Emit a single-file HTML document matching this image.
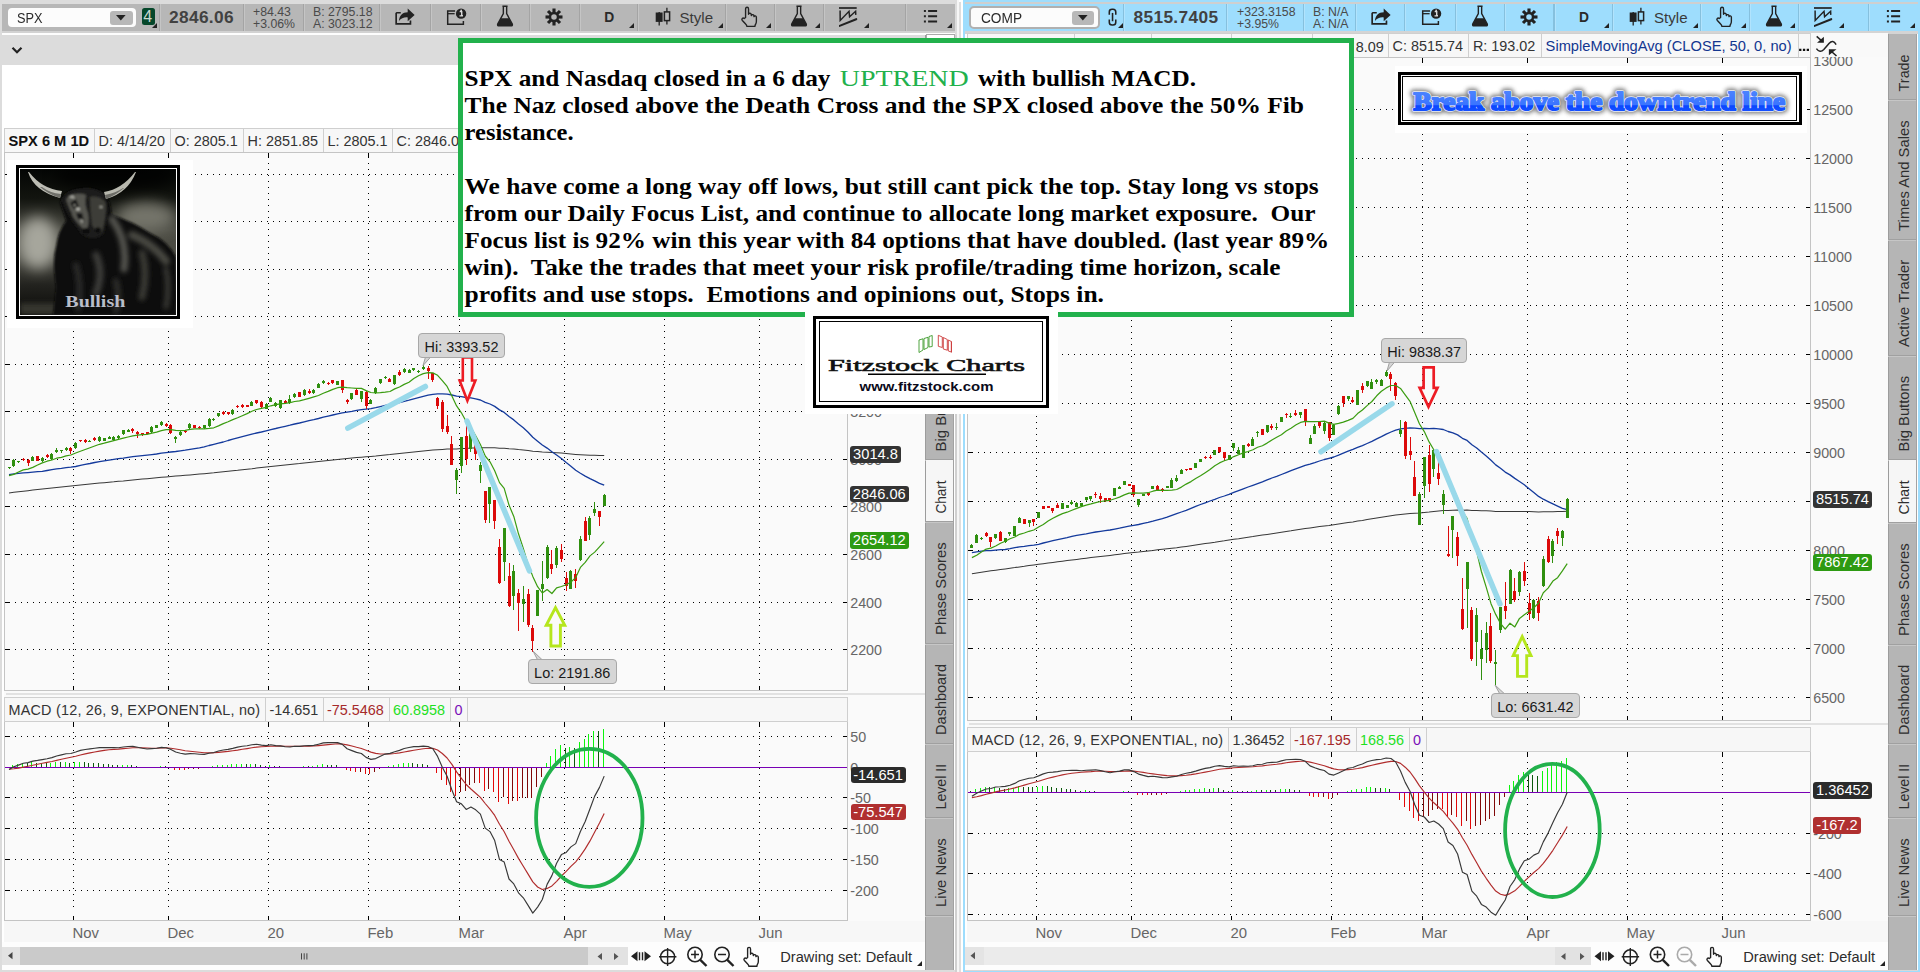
<!DOCTYPE html>
<html><head><meta charset="utf-8"><title>chart</title>
<style>
html,body{margin:0;padding:0;}
body{width:1920px;height:972px;position:relative;overflow:hidden;background:#dcdcdc;font-family:"Liberation Sans",sans-serif;}
body>div,body>svg{position:absolute;}
.t{white-space:pre;line-height:1.15;}
.g{stroke:#000;stroke-width:1;stroke-dasharray:1 5;shape-rendering:crispEdges;}
.ax{font-size:14.3px;fill:#666;font-family:"Liberation Sans",sans-serif;}
</style></head><body>
<div style="left:0px;top:0px;width:1920px;height:972px;background:#dcdcdc;"></div>
<div style="left:2px;top:4px;width:953px;height:27px;background:#b7b7b7;"></div>
<div style="left:2px;top:31px;width:953px;height:1.5px;background:#d2d2d2;"></div>
<div style="left:2px;top:32.5px;width:953px;height:2.5px;background:#fdfdfd;"></div>
<div style="left:2px;top:65px;width:956px;height:905px;background:#fff;"></div>
<svg style="left:11px;top:46px" width="12" height="9"><path d="M1.5 1.8 L6 6.3 L10.5 1.8" fill="none" stroke="#222" stroke-width="2.2"/></svg>
<div style="left:955px;top:0px;width:8px;height:972px;background:#fff;"></div>
<div style="left:955px;top:0px;width:2px;height:35px;background:#dcdcdc;"></div>
<div style="left:955px;top:35px;width:2px;height:937px;background:#d0d0d0;"></div>
<div style="left:957px;top:0px;width:2px;height:972px;background:#f6f6f6;"></div>
<div style="left:959px;top:2px;width:2px;height:970px;background:#dedede;"></div>
<div style="left:961px;top:0px;width:2px;height:972px;background:#fff;"></div>
<div style="left:963px;top:0px;width:957px;height:972px;background:#9eddfd;"></div>
<div style="left:965px;top:2px;width:953px;height:1.6px;background:#cfcfcf;"></div>
<div style="left:965px;top:2px;width:953px;height:1.6px;background:#cfcfcf;"></div>
<div style="left:965px;top:31px;width:953px;height:2.5px;background:#d4d4d4;"></div>
<div style="left:965px;top:33.5px;width:953px;height:936.5px;background:#fff;"></div>
<div style="left:965px;top:969.8px;width:953px;height:0.5px;background:#d8d8d8;"></div>
<div style="left:159px;top:4px;width:1.2px;height:27px;background:#a4a4a4;"></div>
<div style="left:160.2px;top:4px;width:1px;height:27px;background:rgba(255,255,255,0.2);"></div>
<div style="left:243px;top:4px;width:1.2px;height:27px;background:#a4a4a4;"></div>
<div style="left:244.2px;top:4px;width:1px;height:27px;background:rgba(255,255,255,0.2);"></div>
<div style="left:302.5px;top:4px;width:1.2px;height:27px;background:#a4a4a4;"></div>
<div style="left:303.7px;top:4px;width:1px;height:27px;background:rgba(255,255,255,0.2);"></div>
<div style="left:379px;top:4px;width:1.2px;height:27px;background:#a4a4a4;"></div>
<div style="left:380.2px;top:4px;width:1px;height:27px;background:rgba(255,255,255,0.2);"></div>
<div style="left:429.5px;top:4px;width:1.2px;height:27px;background:#a4a4a4;"></div>
<div style="left:430.7px;top:4px;width:1px;height:27px;background:rgba(255,255,255,0.2);"></div>
<div style="left:479.5px;top:4px;width:1.2px;height:27px;background:#a4a4a4;"></div>
<div style="left:480.7px;top:4px;width:1px;height:27px;background:rgba(255,255,255,0.2);"></div>
<div style="left:528.5px;top:4px;width:1.2px;height:27px;background:#a4a4a4;"></div>
<div style="left:529.7px;top:4px;width:1px;height:27px;background:rgba(255,255,255,0.2);"></div>
<div style="left:578.6px;top:4px;width:1.2px;height:27px;background:#a4a4a4;"></div>
<div style="left:579.8px;top:4px;width:1px;height:27px;background:rgba(255,255,255,0.2);"></div>
<div style="left:637px;top:4px;width:1.2px;height:27px;background:#a4a4a4;"></div>
<div style="left:638.2px;top:4px;width:1px;height:27px;background:rgba(255,255,255,0.2);"></div>
<div style="left:725px;top:4px;width:1.2px;height:27px;background:#a4a4a4;"></div>
<div style="left:726.2px;top:4px;width:1px;height:27px;background:rgba(255,255,255,0.2);"></div>
<div style="left:774px;top:4px;width:1.2px;height:27px;background:#a4a4a4;"></div>
<div style="left:775.2px;top:4px;width:1px;height:27px;background:rgba(255,255,255,0.2);"></div>
<div style="left:823px;top:4px;width:1.2px;height:27px;background:#a4a4a4;"></div>
<div style="left:824.2px;top:4px;width:1px;height:27px;background:rgba(255,255,255,0.2);"></div>
<div style="left:904.5px;top:4px;width:1.2px;height:27px;background:#a4a4a4;"></div>
<div style="left:905.7px;top:4px;width:1px;height:27px;background:rgba(255,255,255,0.2);"></div>
<div style="left:7.6px;top:7.5px;width:128.8px;height:19.5px;background:#fcfcfc;border-radius:4px"></div>
<div style="left:110px;top:10.5px;width:22.5px;height:14px;background:#b8b8b8;border-radius:3px"></div>
<svg style="left:116.3px;top:14.5px" width="10" height="6"><path d="M0 0 H9.6 L4.8 5.6z" fill="#222"/></svg>
<div class="t " style="left:17.3px;top:8.6px;font-size:15.2px;color:#2b2b2b;transform:scaleX(0.84);transform-origin:0 0">SPX</div>
<div style="left:141.5px;top:8px;width:13px;height:17px;background:#05472a;border-radius:2.5px"></div>
<div class="t " style="left:143.2px;top:8.3px;font-size:16px;color:#c8d8d0;font-weight:400">4</div>
<svg style="left:152px;top:23px" width="5" height="5" viewBox="0 0 5 5"><path d="M5 0 V5 H0z" fill="#222"/></svg>
<div class="t " style="left:169px;top:8.2px;font-size:17.3px;color:#414141;font-weight:bold;letter-spacing:0.35px">2846.06</div>
<div class="t " style="left:253px;top:5.2px;font-size:12.3px;color:#4a4a4a;">+84.43</div>
<div class="t " style="left:253px;top:17px;font-size:12.3px;color:#4a4a4a;">+3.06%</div>
<div class="t " style="left:313px;top:5.2px;font-size:12.3px;color:#4a4a4a;">B: 2795.18</div>
<div class="t " style="left:313px;top:17px;font-size:12.3px;color:#4a4a4a;">A: 3023.12</div>
<svg style="left:391.7px;top:3.6px" width="24" height="24" viewBox="0 0 24 26"><path d="M3.5 9.5 h5 M3.5 9.5 v12 h15.5 v-3.5" fill="none" stroke="#222" stroke-width="1.8"/><path d="M6.5 18.5 c0.5-6 4-9.5 9.5-9.5 v-4.2 l7.5 7 -7.5 7 v-4.3 c-4-0.3-7 0.8-9.5 4z" fill="#222"/></svg>
<svg style="left:443.5px;top:4px" width="24" height="24" viewBox="0 0 24 26"><path d="M11 7.5 H3 V22 H20 V18.5" fill="none" stroke="#222" stroke-width="1.6"/><path d="M3 10.5 H10.5" stroke="#222" stroke-width="1.4"/><circle cx="17.5" cy="10.5" r="5.6" fill="#222"/><path d="M16 8.2 h2.2 v4.6 h1.2 M15.8 12.9 h3.8" stroke="#ddd" stroke-width="1.5" fill="none"/><circle cx="17.6" cy="6.9" r="0.95" fill="#ddd"/></svg>
<svg style="left:493px;top:3.5px" width="24" height="24" viewBox="0 0 24 26"><path d="M9.2 2.5 h5.6 M10.2 3 v7.5 L4.2 21.5 q-0.8 2 1.3 2.2 h13 q2.1-0.2 1.3-2.2 L13.8 10.5 V3" fill="none" stroke="#222" stroke-width="1.5" stroke-linejoin="round"/><path d="M7.6 15.5 h8.8 l3.4 6.3 q0.6 1.7-1 1.9 h-13.6 q-1.6-0.2-1-1.9z" fill="#222"/></svg>
<svg style="left:542px;top:4.5px" width="24" height="24" viewBox="0 0 24 26"><g transform="translate(12 13)"><g fill="#222"><rect x="-1.7" y="-9.2" width="3.4" height="5" transform="rotate(0)"/><rect x="-1.7" y="-9.2" width="3.4" height="5" transform="rotate(45)"/><rect x="-1.7" y="-9.2" width="3.4" height="5" transform="rotate(90)"/><rect x="-1.7" y="-9.2" width="3.4" height="5" transform="rotate(135)"/><rect x="-1.7" y="-9.2" width="3.4" height="5" transform="rotate(180)"/><rect x="-1.7" y="-9.2" width="3.4" height="5" transform="rotate(225)"/><rect x="-1.7" y="-9.2" width="3.4" height="5" transform="rotate(270)"/><rect x="-1.7" y="-9.2" width="3.4" height="5" transform="rotate(315)"/></g><circle r="5.6" fill="#222"/><circle r="3" fill="#b7b7b7"/></g></svg>
<div class="t " style="left:604.3px;top:9.6px;font-size:13.8px;color:#2a2a2a;font-weight:bold">D</div>
<svg style="left:629px;top:23px" width="5" height="5" viewBox="0 0 5 5"><path d="M5 0 V5 H0z" fill="#222"/></svg>
<svg style="left:654.6px;top:0px" width="20" height="30"><path d="M4.2 11.9 V25.6 M11.9 7.75 V24.4" stroke="#222" stroke-width="1.3"/><rect x="0.7" y="12.5" width="6.9" height="9.4" fill="#222"/><rect x="9.4" y="11.9" width="5.2" height="8.7" fill="#b7b7b7" stroke="#222" stroke-width="1.5"/></svg>
<div class="t " style="left:679.5px;top:9.4px;font-size:15.1px;color:#3a3a3a;">Style</div>
<svg style="left:717.5px;top:23px" width="5" height="5" viewBox="0 0 5 5"><path d="M5 0 V5 H0z" fill="#222"/></svg>
<svg style="left:737px;top:4.5px" width="24" height="24" viewBox="0 0 24 26"><path d="M8.3 13.5 V4.2 q0-1.7 1.6-1.7 q1.6 0 1.6 1.7 V10 q0.2-1.3 1.6-1.1 q1.3 0.2 1.4 1.5 V11.4 q0.3-1.2 1.6-1 q1.2 0.2 1.3 1.4 V12.6 q0.4-1 1.5-0.8 q1.1 0.3 1.1 1.5 V17.5 q0 2.2-1 3.6 q-0.5 0.7-0.5 2 H9.6 q0-1.2-1-2.2 L4.8 16.8 q-1-1.2-0.1-2.2 q1-0.9 2.1 0.1 z" fill="none" stroke="#222" stroke-width="1.5" stroke-linejoin="round"/></svg>
<svg style="left:766px;top:23px" width="5" height="5" viewBox="0 0 5 5"><path d="M5 0 V5 H0z" fill="#222"/></svg>
<svg style="left:787px;top:3.5px" width="24" height="24" viewBox="0 0 24 26"><path d="M9.2 2.5 h5.6 M10.2 3 v7.5 L4.2 21.5 q-0.8 2 1.3 2.2 h13 q2.1-0.2 1.3-2.2 L13.8 10.5 V3" fill="none" stroke="#222" stroke-width="1.5" stroke-linejoin="round"/><path d="M7.6 15.5 h8.8 l3.4 6.3 q0.6 1.7-1 1.9 h-13.6 q-1.6-0.2-1-1.9z" fill="#222"/></svg>
<svg style="left:815px;top:23px" width="5" height="5" viewBox="0 0 5 5"><path d="M5 0 V5 H0z" fill="#222"/></svg>
<svg style="left:839px;top:0px" width="22" height="30"><path d="M0 8 H17.7" stroke="#222" stroke-width="1.7"/><path d="M1.1 10.6 L1.2 20.4 L10 11.3 L10.6 16.8 L16.6 11.3 L16.8 14.9" fill="none" stroke="#222" stroke-width="1.5" stroke-linejoin="miter"/><path d="M0.6 25.9 L17.2 19.2" stroke="#222" stroke-width="2.1" stroke-linecap="round"/></svg>
<svg style="left:864px;top:23px" width="5" height="5" viewBox="0 0 5 5"><path d="M5 0 V5 H0z" fill="#222"/></svg>
<svg style="left:920px;top:6px" width="22" height="20"><path d="M3.9 4.95 h2 M3.9 10.2 h2 M3.9 15.5 h2" stroke="#222" stroke-width="2"/><path d="M8.1 4.95 h9 M8.1 10.2 h9 M8.1 15.5 h9" stroke="#222" stroke-width="1.9"/></svg>
<svg style="left:946.8px;top:23px" width="5" height="5" viewBox="0 0 5 5"><path d="M5 0 V5 H0z" fill="#222"/></svg>
<div style="left:1123px;top:4px;width:1.2px;height:27px;background:#86c0de;"></div>
<div style="left:1124.2px;top:4px;width:1px;height:27px;background:rgba(255,255,255,0.2);"></div>
<div style="left:1226px;top:4px;width:1.2px;height:27px;background:#86c0de;"></div>
<div style="left:1227.2px;top:4px;width:1px;height:27px;background:rgba(255,255,255,0.2);"></div>
<div style="left:1302.8px;top:4px;width:1.2px;height:27px;background:#86c0de;"></div>
<div style="left:1304px;top:4px;width:1px;height:27px;background:rgba(255,255,255,0.2);"></div>
<div style="left:1354.6px;top:4px;width:1.2px;height:27px;background:#86c0de;"></div>
<div style="left:1355.8px;top:4px;width:1px;height:27px;background:rgba(255,255,255,0.2);"></div>
<div style="left:1404px;top:4px;width:1.2px;height:27px;background:#86c0de;"></div>
<div style="left:1405.2px;top:4px;width:1px;height:27px;background:rgba(255,255,255,0.2);"></div>
<div style="left:1455px;top:4px;width:1.2px;height:27px;background:#86c0de;"></div>
<div style="left:1456.2px;top:4px;width:1px;height:27px;background:rgba(255,255,255,0.2);"></div>
<div style="left:1504px;top:4px;width:1.2px;height:27px;background:#86c0de;"></div>
<div style="left:1505.2px;top:4px;width:1px;height:27px;background:rgba(255,255,255,0.2);"></div>
<div style="left:1553.4px;top:4px;width:1.2px;height:27px;background:#86c0de;"></div>
<div style="left:1554.6px;top:4px;width:1px;height:27px;background:rgba(255,255,255,0.2);"></div>
<div style="left:1611.7px;top:4px;width:1.2px;height:27px;background:#86c0de;"></div>
<div style="left:1612.9px;top:4px;width:1px;height:27px;background:rgba(255,255,255,0.2);"></div>
<div style="left:1699.8px;top:4px;width:1.2px;height:27px;background:#86c0de;"></div>
<div style="left:1701px;top:4px;width:1px;height:27px;background:rgba(255,255,255,0.2);"></div>
<div style="left:1748.6px;top:4px;width:1.2px;height:27px;background:#86c0de;"></div>
<div style="left:1749.8px;top:4px;width:1px;height:27px;background:rgba(255,255,255,0.2);"></div>
<div style="left:1797.8px;top:4px;width:1.2px;height:27px;background:#86c0de;"></div>
<div style="left:1799px;top:4px;width:1px;height:27px;background:rgba(255,255,255,0.2);"></div>
<div style="left:1868px;top:4px;width:1.2px;height:27px;background:#86c0de;"></div>
<div style="left:1869.2px;top:4px;width:1px;height:27px;background:rgba(255,255,255,0.2);"></div>
<div style="left:969px;top:6px;width:131px;height:23px;background:#fcfcfc;border:2px solid #b0b0b0;border-radius:5px;box-sizing:border-box"></div>
<div style="left:1071.5px;top:10.5px;width:22.5px;height:14px;background:#b8b8b8;border-radius:3px"></div>
<svg style="left:1077.8px;top:14.5px" width="10" height="6"><path d="M0 0 H9.6 L4.8 5.6z" fill="#222"/></svg>
<div class="t " style="left:980.5px;top:8.6px;font-size:15.2px;color:#2b2b2b;transform:scaleX(0.9);transform-origin:0 0">COMP</div>
<svg style="left:1101px;top:5.5px" width="24" height="24" viewBox="0 0 24 26"><path d="M8 9.5 V6.5 q0-3 3-3 h1 q3 0 3 3 v3 M8 14.5 v3 q0 3 3 3 h1 q3 0 3-3 v-3" fill="none" stroke="#222" stroke-width="1.7"/><path d="M11.5 7.5 v9" stroke="#222" stroke-width="1.7"/></svg>
<svg style="left:1117.5px;top:23px" width="5" height="5" viewBox="0 0 5 5"><path d="M5 0 V5 H0z" fill="#222"/></svg>
<div class="t " style="left:1133.5px;top:8.2px;font-size:17.3px;color:#414141;font-weight:bold;letter-spacing:0.35px">8515.7405</div>
<div class="t " style="left:1237px;top:5.2px;font-size:12.3px;color:#4a4a4a;">+323.3158</div>
<div class="t " style="left:1237px;top:17px;font-size:12.3px;color:#4a4a4a;">+3.95%</div>
<div class="t " style="left:1313px;top:5.2px;font-size:12.3px;color:#4a4a4a;">B: N/A</div>
<div class="t " style="left:1313px;top:17px;font-size:12.3px;color:#4a4a4a;">A: N/A</div>
<svg style="left:1367.5px;top:3.6px" width="24" height="24" viewBox="0 0 24 26"><path d="M3.5 9.5 h5 M3.5 9.5 v12 h15.5 v-3.5" fill="none" stroke="#222" stroke-width="1.8"/><path d="M6.5 18.5 c0.5-6 4-9.5 9.5-9.5 v-4.2 l7.5 7 -7.5 7 v-4.3 c-4-0.3-7 0.8-9.5 4z" fill="#222"/></svg>
<svg style="left:1418.5px;top:4px" width="24" height="24" viewBox="0 0 24 26"><path d="M11 7.5 H3 V22 H20 V18.5" fill="none" stroke="#222" stroke-width="1.6"/><path d="M3 10.5 H10.5" stroke="#222" stroke-width="1.4"/><circle cx="17.5" cy="10.5" r="5.6" fill="#222"/><path d="M16 8.2 h2.2 v4.6 h1.2 M15.8 12.9 h3.8" stroke="#ddd" stroke-width="1.5" fill="none"/><circle cx="17.6" cy="6.9" r="0.95" fill="#ddd"/></svg>
<svg style="left:1468px;top:3.5px" width="24" height="24" viewBox="0 0 24 26"><path d="M9.2 2.5 h5.6 M10.2 3 v7.5 L4.2 21.5 q-0.8 2 1.3 2.2 h13 q2.1-0.2 1.3-2.2 L13.8 10.5 V3" fill="none" stroke="#222" stroke-width="1.5" stroke-linejoin="round"/><path d="M7.6 15.5 h8.8 l3.4 6.3 q0.6 1.7-1 1.9 h-13.6 q-1.6-0.2-1-1.9z" fill="#222"/></svg>
<svg style="left:1517px;top:4.5px" width="24" height="24" viewBox="0 0 24 26"><g transform="translate(12 13)"><g fill="#222"><rect x="-1.7" y="-9.2" width="3.4" height="5" transform="rotate(0)"/><rect x="-1.7" y="-9.2" width="3.4" height="5" transform="rotate(45)"/><rect x="-1.7" y="-9.2" width="3.4" height="5" transform="rotate(90)"/><rect x="-1.7" y="-9.2" width="3.4" height="5" transform="rotate(135)"/><rect x="-1.7" y="-9.2" width="3.4" height="5" transform="rotate(180)"/><rect x="-1.7" y="-9.2" width="3.4" height="5" transform="rotate(225)"/><rect x="-1.7" y="-9.2" width="3.4" height="5" transform="rotate(270)"/><rect x="-1.7" y="-9.2" width="3.4" height="5" transform="rotate(315)"/></g><circle r="5.6" fill="#222"/><circle r="3" fill="#9eddfd"/></g></svg>
<div class="t " style="left:1579px;top:9.6px;font-size:13.8px;color:#2a2a2a;font-weight:bold">D</div>
<svg style="left:1604px;top:23px" width="5" height="5" viewBox="0 0 5 5"><path d="M5 0 V5 H0z" fill="#222"/></svg>
<svg style="left:1629.3px;top:0px" width="20" height="30"><path d="M4.2 11.9 V25.6 M11.9 7.75 V24.4" stroke="#222" stroke-width="1.3"/><rect x="0.7" y="12.5" width="6.9" height="9.4" fill="#222"/><rect x="9.4" y="11.9" width="5.2" height="8.7" fill="#9eddfd" stroke="#222" stroke-width="1.5"/></svg>
<div class="t " style="left:1654px;top:9.4px;font-size:15.1px;color:#3a3a3a;">Style</div>
<svg style="left:1692.5px;top:23px" width="5" height="5" viewBox="0 0 5 5"><path d="M5 0 V5 H0z" fill="#222"/></svg>
<svg style="left:1712px;top:4.5px" width="24" height="24" viewBox="0 0 24 26"><path d="M8.3 13.5 V4.2 q0-1.7 1.6-1.7 q1.6 0 1.6 1.7 V10 q0.2-1.3 1.6-1.1 q1.3 0.2 1.4 1.5 V11.4 q0.3-1.2 1.6-1 q1.2 0.2 1.3 1.4 V12.6 q0.4-1 1.5-0.8 q1.1 0.3 1.1 1.5 V17.5 q0 2.2-1 3.6 q-0.5 0.7-0.5 2 H9.6 q0-1.2-1-2.2 L4.8 16.8 q-1-1.2-0.1-2.2 q1-0.9 2.1 0.1 z" fill="none" stroke="#222" stroke-width="1.5" stroke-linejoin="round"/></svg>
<svg style="left:1741px;top:23px" width="5" height="5" viewBox="0 0 5 5"><path d="M5 0 V5 H0z" fill="#222"/></svg>
<svg style="left:1762px;top:3.5px" width="24" height="24" viewBox="0 0 24 26"><path d="M9.2 2.5 h5.6 M10.2 3 v7.5 L4.2 21.5 q-0.8 2 1.3 2.2 h13 q2.1-0.2 1.3-2.2 L13.8 10.5 V3" fill="none" stroke="#222" stroke-width="1.5" stroke-linejoin="round"/><path d="M7.6 15.5 h8.8 l3.4 6.3 q0.6 1.7-1 1.9 h-13.6 q-1.6-0.2-1-1.9z" fill="#222"/></svg>
<svg style="left:1790px;top:23px" width="5" height="5" viewBox="0 0 5 5"><path d="M5 0 V5 H0z" fill="#222"/></svg>
<svg style="left:1814.2px;top:0px" width="22" height="30"><path d="M0 8 H17.7" stroke="#222" stroke-width="1.7"/><path d="M1.1 10.6 L1.2 20.4 L10 11.3 L10.6 16.8 L16.6 11.3 L16.8 14.9" fill="none" stroke="#222" stroke-width="1.5" stroke-linejoin="miter"/><path d="M0.6 25.9 L17.2 19.2" stroke="#222" stroke-width="2.1" stroke-linecap="round"/></svg>
<svg style="left:1839px;top:23px" width="5" height="5" viewBox="0 0 5 5"><path d="M5 0 V5 H0z" fill="#222"/></svg>
<svg style="left:1883px;top:6px" width="22" height="20"><path d="M3.9 4.95 h2 M3.9 10.2 h2 M3.9 15.5 h2" stroke="#222" stroke-width="2"/><path d="M8.1 4.95 h9 M8.1 10.2 h9 M8.1 15.5 h9" stroke="#222" stroke-width="1.9"/></svg>
<svg style="left:1910px;top:23px" width="5" height="5" viewBox="0 0 5 5"><path d="M5 0 V5 H0z" fill="#222"/></svg>
<div style="left:4px;top:128px;width:91px;height:25px;background:#f7f7f7;border:1px solid #cfcfcf;box-sizing:border-box"></div>
<div class="t " style="left:8.5px;top:132.82px;font-size:14.67px;color:#111;font-weight:bold;">SPX 6 M 1D</div>
<div style="left:94px;top:128px;width:77px;height:25px;background:#f7f7f7;border:1px solid #cfcfcf;box-sizing:border-box"></div>
<div class="t " style="left:98.5px;top:132.82px;font-size:14.4px;color:#333;">D: 4/14/20</div>
<div style="left:170px;top:128px;width:74px;height:25px;background:#f7f7f7;border:1px solid #cfcfcf;box-sizing:border-box"></div>
<div class="t " style="left:174.5px;top:132.82px;font-size:14.4px;color:#333;">O: 2805.1</div>
<div style="left:243px;top:128px;width:81px;height:25px;background:#f7f7f7;border:1px solid #cfcfcf;box-sizing:border-box"></div>
<div class="t " style="left:247.5px;top:132.82px;font-size:14.4px;color:#333;">H: 2851.85</div>
<div style="left:323px;top:128px;width:70px;height:25px;background:#f7f7f7;border:1px solid #cfcfcf;box-sizing:border-box"></div>
<div class="t " style="left:327.5px;top:132.82px;font-size:14.4px;color:#333;">L: 2805.1</div>
<div style="left:392px;top:128px;width:81px;height:25px;background:#f7f7f7;border:1px solid #cfcfcf;box-sizing:border-box"></div>
<div class="t " style="left:396.5px;top:132.82px;font-size:14.4px;color:#333;">C: 2846.06</div>
<div style="left:4px;top:152px;width:921px;height:769px;background:#fafafa;"></div>
<div style="left:4px;top:152px;width:844px;height:539px;background:#fafafa;border:1px solid #c4c4c4;box-sizing:border-box"></div>
<div style="left:6px;top:693px;width:919px;height:2px;background:#e2e2e2;"></div>
<div style="left:4px;top:721px;width:921px;height:200px;background:#fafafa;"></div>
<div style="left:4px;top:721px;width:844px;height:200px;background:#fafafa;border:1px solid #c4c4c4;box-sizing:border-box"></div>
<div style="left:4px;top:921px;width:921px;height:21.5px;background:#f7f7f7;"></div>
<svg style="left:0;top:0" width="1920" height="972"><defs><clipPath id="c4"><rect x="5" y="153" width="842" height="537"/></clipPath></defs><line x1="9" y1="649.5" x2="832" y2="649.5" class="g"/>
<line x1="843" y1="649.5" x2="847" y2="649.5" stroke="#000" shape-rendering="crispEdges"/>
<line x1="5" y1="649.5" x2="10" y2="649.5" stroke="#000" shape-rendering="crispEdges"/>
<line x1="9" y1="602.5" x2="832" y2="602.5" class="g"/>
<line x1="843" y1="602.5" x2="847" y2="602.5" stroke="#000" shape-rendering="crispEdges"/>
<line x1="5" y1="602.5" x2="10" y2="602.5" stroke="#000" shape-rendering="crispEdges"/>
<line x1="9" y1="554.5" x2="832" y2="554.5" class="g"/>
<line x1="843" y1="554.5" x2="847" y2="554.5" stroke="#000" shape-rendering="crispEdges"/>
<line x1="5" y1="554.5" x2="10" y2="554.5" stroke="#000" shape-rendering="crispEdges"/>
<line x1="9" y1="506.5" x2="832" y2="506.5" class="g"/>
<line x1="843" y1="506.5" x2="847" y2="506.5" stroke="#000" shape-rendering="crispEdges"/>
<line x1="5" y1="506.5" x2="10" y2="506.5" stroke="#000" shape-rendering="crispEdges"/>
<line x1="9" y1="459.5" x2="832" y2="459.5" class="g"/>
<line x1="843" y1="459.5" x2="847" y2="459.5" stroke="#000" shape-rendering="crispEdges"/>
<line x1="5" y1="459.5" x2="10" y2="459.5" stroke="#000" shape-rendering="crispEdges"/>
<line x1="9" y1="411.5" x2="832" y2="411.5" class="g"/>
<line x1="843" y1="411.5" x2="847" y2="411.5" stroke="#000" shape-rendering="crispEdges"/>
<line x1="5" y1="411.5" x2="10" y2="411.5" stroke="#000" shape-rendering="crispEdges"/>
<line x1="9" y1="364.5" x2="832" y2="364.5" class="g"/>
<line x1="843" y1="364.5" x2="847" y2="364.5" stroke="#000" shape-rendering="crispEdges"/>
<line x1="5" y1="364.5" x2="10" y2="364.5" stroke="#000" shape-rendering="crispEdges"/>
<line x1="9" y1="316.5" x2="832" y2="316.5" class="g"/>
<line x1="843" y1="316.5" x2="847" y2="316.5" stroke="#000" shape-rendering="crispEdges"/>
<line x1="5" y1="316.5" x2="10" y2="316.5" stroke="#000" shape-rendering="crispEdges"/>
<line x1="9" y1="269.5" x2="832" y2="269.5" class="g"/>
<line x1="843" y1="269.5" x2="847" y2="269.5" stroke="#000" shape-rendering="crispEdges"/>
<line x1="5" y1="269.5" x2="10" y2="269.5" stroke="#000" shape-rendering="crispEdges"/>
<line x1="9" y1="221.5" x2="832" y2="221.5" class="g"/>
<line x1="843" y1="221.5" x2="847" y2="221.5" stroke="#000" shape-rendering="crispEdges"/>
<line x1="5" y1="221.5" x2="10" y2="221.5" stroke="#000" shape-rendering="crispEdges"/>
<line x1="9" y1="174.5" x2="832" y2="174.5" class="g"/>
<line x1="843" y1="174.5" x2="847" y2="174.5" stroke="#000" shape-rendering="crispEdges"/>
<line x1="5" y1="174.5" x2="10" y2="174.5" stroke="#000" shape-rendering="crispEdges"/>
<line x1="9" y1="736.5" x2="832" y2="736.5" class="g"/>
<line x1="843" y1="736.5" x2="847" y2="736.5" stroke="#000" shape-rendering="crispEdges"/>
<line x1="5" y1="736.5" x2="10" y2="736.5" stroke="#000" shape-rendering="crispEdges"/>
<line x1="9" y1="767.5" x2="832" y2="767.5" class="g"/>
<line x1="843" y1="767.5" x2="847" y2="767.5" stroke="#000" shape-rendering="crispEdges"/>
<line x1="5" y1="767.5" x2="10" y2="767.5" stroke="#000" shape-rendering="crispEdges"/>
<line x1="9" y1="797.5" x2="832" y2="797.5" class="g"/>
<line x1="843" y1="797.5" x2="847" y2="797.5" stroke="#000" shape-rendering="crispEdges"/>
<line x1="5" y1="797.5" x2="10" y2="797.5" stroke="#000" shape-rendering="crispEdges"/>
<line x1="9" y1="828.5" x2="832" y2="828.5" class="g"/>
<line x1="843" y1="828.5" x2="847" y2="828.5" stroke="#000" shape-rendering="crispEdges"/>
<line x1="5" y1="828.5" x2="10" y2="828.5" stroke="#000" shape-rendering="crispEdges"/>
<line x1="9" y1="859.5" x2="832" y2="859.5" class="g"/>
<line x1="843" y1="859.5" x2="847" y2="859.5" stroke="#000" shape-rendering="crispEdges"/>
<line x1="5" y1="859.5" x2="10" y2="859.5" stroke="#000" shape-rendering="crispEdges"/>
<line x1="9" y1="890.5" x2="832" y2="890.5" class="g"/>
<line x1="843" y1="890.5" x2="847" y2="890.5" stroke="#000" shape-rendering="crispEdges"/>
<line x1="5" y1="890.5" x2="10" y2="890.5" stroke="#000" shape-rendering="crispEdges"/>
<line x1="73.5" y1="157" x2="73.5" y2="681" class="g"/>
<line x1="73.5" y1="726" x2="73.5" y2="911" class="g"/>
<line x1="73.5" y1="153" x2="73.5" y2="157" stroke="#000" shape-rendering="crispEdges"/>
<line x1="73.5" y1="686" x2="73.5" y2="690" stroke="#000" shape-rendering="crispEdges"/>
<line x1="73.5" y1="722" x2="73.5" y2="726" stroke="#000" shape-rendering="crispEdges"/>
<line x1="73.5" y1="916" x2="73.5" y2="920" stroke="#000" shape-rendering="crispEdges"/>
<line x1="168.5" y1="157" x2="168.5" y2="681" class="g"/>
<line x1="168.5" y1="726" x2="168.5" y2="911" class="g"/>
<line x1="168.5" y1="153" x2="168.5" y2="157" stroke="#000" shape-rendering="crispEdges"/>
<line x1="168.5" y1="686" x2="168.5" y2="690" stroke="#000" shape-rendering="crispEdges"/>
<line x1="168.5" y1="722" x2="168.5" y2="726" stroke="#000" shape-rendering="crispEdges"/>
<line x1="168.5" y1="916" x2="168.5" y2="920" stroke="#000" shape-rendering="crispEdges"/>
<line x1="268.5" y1="157" x2="268.5" y2="681" class="g"/>
<line x1="268.5" y1="726" x2="268.5" y2="911" class="g"/>
<line x1="268.5" y1="153" x2="268.5" y2="157" stroke="#000" shape-rendering="crispEdges"/>
<line x1="268.5" y1="686" x2="268.5" y2="690" stroke="#000" shape-rendering="crispEdges"/>
<line x1="268.5" y1="722" x2="268.5" y2="726" stroke="#000" shape-rendering="crispEdges"/>
<line x1="268.5" y1="916" x2="268.5" y2="920" stroke="#000" shape-rendering="crispEdges"/>
<line x1="368.5" y1="157" x2="368.5" y2="681" class="g"/>
<line x1="368.5" y1="726" x2="368.5" y2="911" class="g"/>
<line x1="368.5" y1="153" x2="368.5" y2="157" stroke="#000" shape-rendering="crispEdges"/>
<line x1="368.5" y1="686" x2="368.5" y2="690" stroke="#000" shape-rendering="crispEdges"/>
<line x1="368.5" y1="722" x2="368.5" y2="726" stroke="#000" shape-rendering="crispEdges"/>
<line x1="368.5" y1="916" x2="368.5" y2="920" stroke="#000" shape-rendering="crispEdges"/>
<line x1="459.5" y1="157" x2="459.5" y2="681" class="g"/>
<line x1="459.5" y1="726" x2="459.5" y2="911" class="g"/>
<line x1="459.5" y1="153" x2="459.5" y2="157" stroke="#000" shape-rendering="crispEdges"/>
<line x1="459.5" y1="686" x2="459.5" y2="690" stroke="#000" shape-rendering="crispEdges"/>
<line x1="459.5" y1="722" x2="459.5" y2="726" stroke="#000" shape-rendering="crispEdges"/>
<line x1="459.5" y1="916" x2="459.5" y2="920" stroke="#000" shape-rendering="crispEdges"/>
<line x1="564.5" y1="157" x2="564.5" y2="681" class="g"/>
<line x1="564.5" y1="726" x2="564.5" y2="911" class="g"/>
<line x1="564.5" y1="153" x2="564.5" y2="157" stroke="#000" shape-rendering="crispEdges"/>
<line x1="564.5" y1="686" x2="564.5" y2="690" stroke="#000" shape-rendering="crispEdges"/>
<line x1="564.5" y1="722" x2="564.5" y2="726" stroke="#000" shape-rendering="crispEdges"/>
<line x1="564.5" y1="916" x2="564.5" y2="920" stroke="#000" shape-rendering="crispEdges"/>
<line x1="664.5" y1="157" x2="664.5" y2="681" class="g"/>
<line x1="664.5" y1="726" x2="664.5" y2="911" class="g"/>
<line x1="664.5" y1="153" x2="664.5" y2="157" stroke="#000" shape-rendering="crispEdges"/>
<line x1="664.5" y1="686" x2="664.5" y2="690" stroke="#000" shape-rendering="crispEdges"/>
<line x1="664.5" y1="722" x2="664.5" y2="726" stroke="#000" shape-rendering="crispEdges"/>
<line x1="664.5" y1="916" x2="664.5" y2="920" stroke="#000" shape-rendering="crispEdges"/>
<line x1="759.5" y1="157" x2="759.5" y2="681" class="g"/>
<line x1="759.5" y1="726" x2="759.5" y2="911" class="g"/>
<line x1="759.5" y1="153" x2="759.5" y2="157" stroke="#000" shape-rendering="crispEdges"/>
<line x1="759.5" y1="686" x2="759.5" y2="690" stroke="#000" shape-rendering="crispEdges"/>
<line x1="759.5" y1="722" x2="759.5" y2="726" stroke="#000" shape-rendering="crispEdges"/>
<line x1="759.5" y1="916" x2="759.5" y2="920" stroke="#000" shape-rendering="crispEdges"/>
<text x="850.2" y="654.7" class="ax">2200</text>
<text x="850.2" y="607.7" class="ax">2400</text>
<text x="850.2" y="559.7" class="ax">2600</text>
<text x="850.2" y="511.7" class="ax">2800</text>
<text x="850.2" y="464.7" class="ax">3000</text>
<text x="850.2" y="416.7" class="ax">3200</text>
<text x="850.2" y="741.7" class="ax">50</text>
<text x="850.2" y="772.7" class="ax">0</text>
<text x="850.2" y="802.7" class="ax">-50</text>
<text x="850.2" y="833.7" class="ax">-100</text>
<text x="850.2" y="864.7" class="ax">-150</text>
<text x="850.2" y="895.7" class="ax">-200</text>
<text x="72.5" y="938" class="ax" style="font-size:14.9px">Nov</text>
<text x="167.5" y="938" class="ax" style="font-size:14.9px">Dec</text>
<text x="267.5" y="938" class="ax" style="font-size:14.9px">20</text>
<text x="367.5" y="938" class="ax" style="font-size:14.9px">Feb</text>
<text x="458.5" y="938" class="ax" style="font-size:14.9px">Mar</text>
<text x="563.5" y="938" class="ax" style="font-size:14.9px">Apr</text>
<text x="663.5" y="938" class="ax" style="font-size:14.9px">May</text>
<text x="758.5" y="938" class="ax" style="font-size:14.9px">Jun</text>
<g clip-path="url(#c4)"><path d="M9.0 492.9 L13.8 492.3 L18.5 491.7 L23.3 491.2 L28.0 490.7 L32.8 490.1 L37.6 489.6 L42.3 489.1 L47.1 488.6 L51.9 488.1 L56.6 487.6 L61.4 487.1 L66.1 486.6 L70.9 486.1 L75.7 485.6 L80.4 485.1 L85.2 484.6 L90.0 484.1 L94.7 483.6 L99.5 483.1 L104.2 482.7 L109.0 482.2 L113.8 481.8 L118.5 481.3 L123.3 480.9 L128.0 480.4 L132.8 480.0 L137.6 479.5 L142.3 479.1 L147.1 478.7 L151.9 478.2 L156.6 477.8 L161.4 477.3 L166.1 476.9 L170.9 476.5 L175.7 476.1 L180.4 475.7 L185.2 475.3 L190.0 474.9 L194.7 474.5 L199.5 474.1 L204.2 473.7 L209.0 473.2 L213.8 472.8 L218.5 472.3 L223.3 471.8 L228.1 471.3 L232.8 470.8 L237.6 470.3 L242.3 469.7 L247.1 469.2 L251.9 468.7 L256.6 468.1 L261.4 467.6 L266.1 467.1 L270.9 466.6 L275.7 466.1 L280.4 465.6 L285.2 465.1 L290.0 464.6 L294.7 464.1 L299.5 463.6 L304.2 463.0 L309.0 462.5 L313.8 462.0 L318.5 461.5 L323.3 460.9 L328.1 460.4 L332.8 459.9 L337.6 459.4 L342.3 458.9 L347.1 458.5 L351.9 458.0 L356.6 457.6 L361.4 457.2 L366.1 456.8 L370.9 456.4 L375.7 456.0 L380.4 455.5 L385.2 455.0 L390.0 454.6 L394.7 454.1 L399.5 453.6 L404.2 453.1 L409.0 452.6 L413.8 452.1 L418.5 451.6 L423.3 451.1 L428.1 450.5 L432.8 450.0 L437.6 449.7 L442.3 449.4 L447.1 449.1 L451.9 449.0 L456.6 448.9 L461.4 448.6 L466.2 448.4 L470.9 448.1 L475.7 447.9 L480.4 447.7 L485.2 447.8 L490.0 447.7 L494.7 447.8 L499.5 448.2 L504.2 448.3 L509.0 448.8 L513.8 449.0 L518.5 449.5 L523.3 449.9 L528.1 450.5 L532.8 451.2 L537.6 451.6 L542.3 452.0 L547.1 452.2 L551.9 452.5 L556.6 452.8 L561.4 453.1 L566.2 453.6 L570.9 454.0 L575.7 454.4 L580.4 454.7 L585.2 455.0 L590.0 455.2 L594.7 455.3 L599.5 455.5 L604.2 455.6" fill="none" stroke="#383838" stroke-width="1.05" stroke-linejoin="round"/>
<path d="M9.0 474.7 L13.8 473.9 L18.5 473.4 L23.3 472.9 L28.0 472.6 L32.8 472.2 L37.6 471.7 L42.3 471.3 L47.1 470.5 L51.9 469.7 L56.6 468.9 L61.4 468.4 L66.1 467.7 L70.9 467.2 L75.7 466.5 L80.4 465.4 L85.2 464.4 L90.0 463.5 L94.7 462.5 L99.5 461.7 L104.2 460.9 L109.0 460.1 L113.8 459.3 L118.5 458.7 L123.3 458.1 L128.0 457.4 L132.8 456.7 L137.6 456.2 L142.3 455.7 L147.1 455.2 L151.9 454.6 L156.6 454.0 L161.4 453.2 L166.1 452.6 L170.9 452.0 L175.7 451.5 L180.4 450.8 L185.2 450.2 L190.0 449.4 L194.7 448.6 L199.5 447.8 L204.2 446.9 L209.0 445.5 L213.8 444.3 L218.5 443.2 L223.3 442.0 L228.1 440.5 L232.8 439.2 L237.6 437.8 L242.3 436.6 L247.1 435.4 L251.9 434.2 L256.6 433.0 L261.4 432.0 L266.1 430.8 L270.9 429.6 L275.7 428.5 L280.4 427.3 L285.2 426.3 L290.0 425.2 L294.7 424.0 L299.5 423.0 L304.2 421.8 L309.0 420.6 L313.8 419.6 L318.5 418.5 L323.3 417.2 L328.1 416.1 L332.8 415.0 L337.6 413.9 L342.3 412.9 L347.1 412.1 L351.9 411.3 L356.6 410.4 L361.4 409.7 L366.1 409.2 L370.9 408.6 L375.7 407.7 L380.4 406.6 L385.2 405.4 L390.0 404.5 L394.7 403.5 L399.5 402.5 L404.2 401.4 L409.0 400.2 L413.8 398.8 L418.5 397.6 L423.3 396.3 L428.1 395.2 L432.8 394.3 L437.6 393.8 L442.3 393.9 L447.1 394.1 L451.9 395.0 L456.6 396.2 L461.4 396.6 L466.2 397.5 L470.9 397.9 L475.7 398.8 L480.4 400.0 L485.2 402.3 L490.0 404.0 L494.7 406.4 L499.5 409.9 L504.2 412.4 L509.0 416.5 L513.8 419.9 L518.5 423.9 L523.3 427.8 L528.1 432.3 L532.8 437.3 L537.6 441.2 L542.3 445.0 L547.1 448.1 L551.9 451.7 L556.6 455.0 L561.4 458.5 L566.2 462.6 L570.9 466.3 L575.7 470.3 L580.4 473.3 L585.2 476.1 L590.0 478.6 L594.7 480.9 L599.5 483.4 L604.2 485.2" fill="none" stroke="#143a9c" stroke-width="1.3" stroke-linejoin="round"/>
<rect x="9" y="467" width="1" height="2" fill="#2f8f0f"/>
<rect x="8" y="467" width="3" height="1" fill="#2f8f0f"/>
<rect x="13" y="459" width="1" height="8" fill="#2f8f0f"/>
<rect x="12" y="460" width="3" height="6" fill="#2f8f0f"/>
<rect x="18" y="461" width="1" height="2" fill="#2f8f0f"/>
<rect x="17" y="461" width="3" height="1" fill="#2f8f0f"/>
<rect x="23" y="458" width="1" height="3" fill="#dc0a0a"/>
<rect x="22" y="459" width="3" height="1" fill="#dc0a0a"/>
<rect x="28" y="459" width="1" height="7" fill="#dc0a0a"/>
<rect x="27" y="460" width="3" height="3" fill="#dc0a0a"/>
<rect x="32" y="456" width="1" height="5" fill="#2f8f0f"/>
<rect x="31" y="457" width="3" height="4" fill="#2f8f0f"/>
<rect x="37" y="456" width="1" height="5" fill="#dc0a0a"/>
<rect x="36" y="456" width="3" height="5" fill="#dc0a0a"/>
<rect x="42" y="457" width="1" height="5" fill="#2f8f0f"/>
<rect x="41" y="458" width="3" height="3" fill="#2f8f0f"/>
<rect x="47" y="454" width="1" height="4" fill="#dc0a0a"/>
<rect x="46" y="455" width="3" height="2" fill="#dc0a0a"/>
<rect x="51" y="453" width="1" height="7" fill="#2f8f0f"/>
<rect x="50" y="454" width="3" height="5" fill="#2f8f0f"/>
<rect x="56" y="448" width="1" height="5" fill="#2f8f0f"/>
<rect x="55" y="450" width="3" height="2" fill="#2f8f0f"/>
<rect x="61" y="450" width="1" height="3" fill="#2f8f0f"/>
<rect x="60" y="450" width="3" height="1" fill="#2f8f0f"/>
<rect x="66" y="447" width="1" height="4" fill="#2f8f0f"/>
<rect x="65" y="448" width="3" height="2" fill="#2f8f0f"/>
<rect x="70" y="447" width="1" height="7" fill="#dc0a0a"/>
<rect x="69" y="448" width="3" height="3" fill="#dc0a0a"/>
<rect x="75" y="442" width="1" height="7" fill="#2f8f0f"/>
<rect x="74" y="443" width="3" height="5" fill="#2f8f0f"/>
<rect x="80" y="440" width="1" height="2" fill="#dc0a0a"/>
<rect x="79" y="440" width="3" height="1" fill="#dc0a0a"/>
<rect x="85" y="439" width="1" height="4" fill="#dc0a0a"/>
<rect x="84" y="440" width="3" height="2" fill="#dc0a0a"/>
<rect x="89" y="440" width="1" height="2" fill="#2f8f0f"/>
<rect x="88" y="441" width="3" height="1" fill="#2f8f0f"/>
<rect x="94" y="437" width="1" height="4" fill="#dc0a0a"/>
<rect x="93" y="438" width="3" height="2" fill="#dc0a0a"/>
<rect x="99" y="436" width="1" height="6" fill="#2f8f0f"/>
<rect x="98" y="437" width="3" height="4" fill="#2f8f0f"/>
<rect x="104" y="438" width="1" height="3" fill="#2f8f0f"/>
<rect x="103" y="438" width="3" height="3" fill="#2f8f0f"/>
<rect x="109" y="436" width="1" height="3" fill="#2f8f0f"/>
<rect x="108" y="437" width="3" height="2" fill="#2f8f0f"/>
<rect x="113" y="436" width="1" height="5" fill="#2f8f0f"/>
<rect x="112" y="437" width="3" height="3" fill="#2f8f0f"/>
<rect x="118" y="435" width="1" height="4" fill="#2f8f0f"/>
<rect x="117" y="436" width="3" height="2" fill="#2f8f0f"/>
<rect x="123" y="430" width="1" height="5" fill="#2f8f0f"/>
<rect x="122" y="430" width="3" height="4" fill="#2f8f0f"/>
<rect x="128" y="429" width="1" height="3" fill="#2f8f0f"/>
<rect x="127" y="430" width="3" height="2" fill="#2f8f0f"/>
<rect x="132" y="428" width="1" height="5" fill="#dc0a0a"/>
<rect x="131" y="429" width="3" height="2" fill="#dc0a0a"/>
<rect x="137" y="431" width="1" height="7" fill="#dc0a0a"/>
<rect x="136" y="432" width="3" height="2" fill="#dc0a0a"/>
<rect x="142" y="433" width="1" height="3" fill="#dc0a0a"/>
<rect x="141" y="433" width="3" height="2" fill="#dc0a0a"/>
<rect x="147" y="432" width="1" height="2" fill="#dc0a0a"/>
<rect x="146" y="432" width="3" height="2" fill="#dc0a0a"/>
<rect x="151" y="426" width="1" height="7" fill="#2f8f0f"/>
<rect x="150" y="427" width="3" height="5" fill="#2f8f0f"/>
<rect x="156" y="425" width="1" height="3" fill="#2f8f0f"/>
<rect x="155" y="425" width="3" height="3" fill="#2f8f0f"/>
<rect x="161" y="421" width="1" height="5" fill="#2f8f0f"/>
<rect x="160" y="422" width="3" height="3" fill="#2f8f0f"/>
<rect x="166" y="423" width="1" height="4" fill="#dc0a0a"/>
<rect x="165" y="424" width="3" height="2" fill="#dc0a0a"/>
<rect x="170" y="424" width="1" height="10" fill="#dc0a0a"/>
<rect x="169" y="425" width="3" height="8" fill="#dc0a0a"/>
<rect x="175" y="436" width="1" height="7" fill="#2f8f0f"/>
<rect x="174" y="437" width="3" height="2" fill="#2f8f0f"/>
<rect x="180" y="431" width="1" height="5" fill="#2f8f0f"/>
<rect x="179" y="432" width="3" height="3" fill="#2f8f0f"/>
<rect x="185" y="430" width="1" height="3" fill="#dc0a0a"/>
<rect x="184" y="431" width="3" height="1" fill="#dc0a0a"/>
<rect x="189" y="423" width="1" height="6" fill="#2f8f0f"/>
<rect x="188" y="424" width="3" height="4" fill="#2f8f0f"/>
<rect x="194" y="425" width="1" height="3" fill="#dc0a0a"/>
<rect x="193" y="425" width="3" height="3" fill="#dc0a0a"/>
<rect x="199" y="426" width="1" height="3" fill="#dc0a0a"/>
<rect x="198" y="427" width="3" height="1" fill="#dc0a0a"/>
<rect x="204" y="425" width="1" height="4" fill="#2f8f0f"/>
<rect x="203" y="425" width="3" height="3" fill="#2f8f0f"/>
<rect x="209" y="418" width="1" height="9" fill="#2f8f0f"/>
<rect x="208" y="419" width="3" height="7" fill="#2f8f0f"/>
<rect x="213" y="418" width="1" height="3" fill="#2f8f0f"/>
<rect x="212" y="419" width="3" height="1" fill="#2f8f0f"/>
<rect x="218" y="413" width="1" height="4" fill="#2f8f0f"/>
<rect x="217" y="413" width="3" height="3" fill="#2f8f0f"/>
<rect x="223" y="411" width="1" height="4" fill="#dc0a0a"/>
<rect x="222" y="412" width="3" height="2" fill="#dc0a0a"/>
<rect x="228" y="412" width="1" height="3" fill="#dc0a0a"/>
<rect x="227" y="412" width="3" height="2" fill="#dc0a0a"/>
<rect x="232" y="409" width="1" height="6" fill="#2f8f0f"/>
<rect x="231" y="410" width="3" height="4" fill="#2f8f0f"/>
<rect x="237" y="405" width="1" height="3" fill="#dc0a0a"/>
<rect x="236" y="406" width="3" height="1" fill="#dc0a0a"/>
<rect x="242" y="404" width="1" height="4" fill="#dc0a0a"/>
<rect x="241" y="405" width="3" height="2" fill="#dc0a0a"/>
<rect x="247" y="405" width="1" height="2" fill="#dc0a0a"/>
<rect x="246" y="405" width="3" height="2" fill="#dc0a0a"/>
<rect x="251" y="401" width="1" height="5" fill="#2f8f0f"/>
<rect x="250" y="402" width="3" height="4" fill="#2f8f0f"/>
<rect x="256" y="400" width="1" height="4" fill="#dc0a0a"/>
<rect x="255" y="400" width="3" height="3" fill="#dc0a0a"/>
<rect x="261" y="401" width="1" height="7" fill="#dc0a0a"/>
<rect x="260" y="402" width="3" height="5" fill="#dc0a0a"/>
<rect x="266" y="403" width="1" height="6" fill="#2f8f0f"/>
<rect x="265" y="404" width="3" height="5" fill="#2f8f0f"/>
<rect x="270" y="397" width="1" height="5" fill="#2f8f0f"/>
<rect x="269" y="398" width="3" height="4" fill="#2f8f0f"/>
<rect x="275" y="402" width="1" height="5" fill="#2f8f0f"/>
<rect x="274" y="403" width="3" height="3" fill="#2f8f0f"/>
<rect x="280" y="400" width="1" height="9" fill="#2f8f0f"/>
<rect x="279" y="400" width="3" height="8" fill="#2f8f0f"/>
<rect x="285" y="400" width="1" height="4" fill="#dc0a0a"/>
<rect x="284" y="401" width="3" height="2" fill="#dc0a0a"/>
<rect x="289" y="395" width="1" height="9" fill="#2f8f0f"/>
<rect x="288" y="399" width="3" height="4" fill="#2f8f0f"/>
<rect x="294" y="393" width="1" height="5" fill="#2f8f0f"/>
<rect x="293" y="394" width="3" height="3" fill="#2f8f0f"/>
<rect x="299" y="392" width="1" height="5" fill="#dc0a0a"/>
<rect x="298" y="392" width="3" height="5" fill="#dc0a0a"/>
<rect x="304" y="389" width="1" height="7" fill="#2f8f0f"/>
<rect x="303" y="390" width="3" height="5" fill="#2f8f0f"/>
<rect x="309" y="389" width="1" height="5" fill="#dc0a0a"/>
<rect x="308" y="391" width="3" height="2" fill="#dc0a0a"/>
<rect x="313" y="389" width="1" height="5" fill="#2f8f0f"/>
<rect x="312" y="390" width="3" height="3" fill="#2f8f0f"/>
<rect x="318" y="383" width="1" height="5" fill="#2f8f0f"/>
<rect x="317" y="384" width="3" height="4" fill="#2f8f0f"/>
<rect x="323" y="380" width="1" height="4" fill="#2f8f0f"/>
<rect x="322" y="381" width="3" height="2" fill="#2f8f0f"/>
<rect x="328" y="382" width="1" height="3" fill="#dc0a0a"/>
<rect x="327" y="383" width="3" height="1" fill="#dc0a0a"/>
<rect x="332" y="380" width="1" height="4" fill="#dc0a0a"/>
<rect x="331" y="380" width="3" height="3" fill="#dc0a0a"/>
<rect x="337" y="381" width="1" height="4" fill="#2f8f0f"/>
<rect x="336" y="381" width="3" height="4" fill="#2f8f0f"/>
<rect x="342" y="380" width="1" height="13" fill="#dc0a0a"/>
<rect x="341" y="380" width="3" height="10" fill="#dc0a0a"/>
<rect x="347" y="399" width="1" height="5" fill="#dc0a0a"/>
<rect x="346" y="400" width="3" height="2" fill="#dc0a0a"/>
<rect x="351" y="393" width="1" height="7" fill="#2f8f0f"/>
<rect x="350" y="393" width="3" height="6" fill="#2f8f0f"/>
<rect x="356" y="389" width="1" height="6" fill="#dc0a0a"/>
<rect x="355" y="390" width="3" height="5" fill="#dc0a0a"/>
<rect x="361" y="391" width="1" height="11" fill="#2f8f0f"/>
<rect x="360" y="391" width="3" height="8" fill="#2f8f0f"/>
<rect x="366" y="391" width="1" height="18" fill="#dc0a0a"/>
<rect x="365" y="392" width="3" height="14" fill="#dc0a0a"/>
<rect x="370" y="399" width="1" height="5" fill="#2f8f0f"/>
<rect x="369" y="400" width="3" height="4" fill="#2f8f0f"/>
<rect x="375" y="387" width="1" height="7" fill="#2f8f0f"/>
<rect x="374" y="388" width="3" height="5" fill="#2f8f0f"/>
<rect x="380" y="379" width="1" height="5" fill="#2f8f0f"/>
<rect x="379" y="379" width="3" height="4" fill="#2f8f0f"/>
<rect x="385" y="376" width="1" height="3" fill="#2f8f0f"/>
<rect x="384" y="377" width="3" height="1" fill="#2f8f0f"/>
<rect x="389" y="378" width="1" height="4" fill="#dc0a0a"/>
<rect x="388" y="379" width="3" height="3" fill="#dc0a0a"/>
<rect x="394" y="375" width="1" height="10" fill="#2f8f0f"/>
<rect x="393" y="375" width="3" height="9" fill="#2f8f0f"/>
<rect x="399" y="370" width="1" height="6" fill="#dc0a0a"/>
<rect x="398" y="372" width="3" height="3" fill="#dc0a0a"/>
<rect x="404" y="368" width="1" height="5" fill="#2f8f0f"/>
<rect x="403" y="369" width="3" height="3" fill="#2f8f0f"/>
<rect x="409" y="369" width="1" height="4" fill="#2f8f0f"/>
<rect x="408" y="370" width="3" height="3" fill="#2f8f0f"/>
<rect x="413" y="368" width="1" height="3" fill="#2f8f0f"/>
<rect x="412" y="368" width="3" height="2" fill="#2f8f0f"/>
<rect x="418" y="370" width="1" height="3" fill="#2f8f0f"/>
<rect x="417" y="371" width="3" height="1" fill="#2f8f0f"/>
<rect x="423" y="365" width="1" height="5" fill="#2f8f0f"/>
<rect x="422" y="367" width="3" height="2" fill="#2f8f0f"/>
<rect x="428" y="366" width="1" height="13" fill="#dc0a0a"/>
<rect x="427" y="368" width="3" height="3" fill="#dc0a0a"/>
<rect x="432" y="373" width="1" height="9" fill="#dc0a0a"/>
<rect x="431" y="373" width="3" height="7" fill="#dc0a0a"/>
<rect x="437" y="397" width="1" height="12" fill="#dc0a0a"/>
<rect x="436" y="398" width="3" height="8" fill="#dc0a0a"/>
<rect x="442" y="400" width="1" height="32" fill="#dc0a0a"/>
<rect x="441" y="402" width="3" height="27" fill="#dc0a0a"/>
<rect x="447" y="415" width="1" height="19" fill="#dc0a0a"/>
<rect x="446" y="426" width="3" height="6" fill="#dc0a0a"/>
<rect x="451" y="436" width="1" height="29" fill="#dc0a0a"/>
<rect x="450" y="444" width="3" height="21" fill="#dc0a0a"/>
<rect x="456" y="468" width="1" height="26" fill="#2f8f0f"/>
<rect x="455" y="470" width="3" height="10" fill="#2f8f0f"/>
<rect x="461" y="437" width="1" height="36" fill="#2f8f0f"/>
<rect x="460" y="437" width="3" height="29" fill="#2f8f0f"/>
<rect x="466" y="426" width="1" height="39" fill="#dc0a0a"/>
<rect x="465" y="436" width="3" height="23" fill="#dc0a0a"/>
<rect x="470" y="428" width="1" height="24" fill="#2f8f0f"/>
<rect x="469" y="428" width="3" height="21" fill="#2f8f0f"/>
<rect x="475" y="439" width="1" height="21" fill="#dc0a0a"/>
<rect x="474" y="441" width="3" height="13" fill="#dc0a0a"/>
<rect x="480" y="462" width="1" height="21" fill="#2f8f0f"/>
<rect x="479" y="465" width="3" height="6" fill="#2f8f0f"/>
<rect x="485" y="491" width="1" height="32" fill="#dc0a0a"/>
<rect x="484" y="491" width="3" height="29" fill="#dc0a0a"/>
<rect x="489" y="487" width="1" height="36" fill="#2f8f0f"/>
<rect x="488" y="487" width="3" height="17" fill="#2f8f0f"/>
<rect x="494" y="500" width="1" height="29" fill="#dc0a0a"/>
<rect x="493" y="500" width="3" height="21" fill="#dc0a0a"/>
<rect x="499" y="539" width="1" height="45" fill="#dc0a0a"/>
<rect x="498" y="547" width="3" height="36" fill="#dc0a0a"/>
<rect x="504" y="528" width="1" height="53" fill="#2f8f0f"/>
<rect x="503" y="528" width="3" height="34" fill="#2f8f0f"/>
<rect x="509" y="563" width="1" height="44" fill="#dc0a0a"/>
<rect x="508" y="576" width="3" height="30" fill="#dc0a0a"/>
<rect x="513" y="565" width="1" height="45" fill="#2f8f0f"/>
<rect x="512" y="571" width="3" height="25" fill="#2f8f0f"/>
<rect x="518" y="589" width="1" height="42" fill="#dc0a0a"/>
<rect x="517" y="593" width="3" height="10" fill="#dc0a0a"/>
<rect x="523" y="586" width="1" height="36" fill="#2f8f0f"/>
<rect x="522" y="599" width="3" height="5" fill="#2f8f0f"/>
<rect x="528" y="589" width="1" height="38" fill="#dc0a0a"/>
<rect x="527" y="594" width="3" height="31" fill="#dc0a0a"/>
<rect x="532" y="625" width="1" height="27" fill="#dc0a0a"/>
<rect x="531" y="628" width="3" height="13" fill="#dc0a0a"/>
<rect x="537" y="590" width="1" height="26" fill="#2f8f0f"/>
<rect x="536" y="590" width="3" height="26" fill="#2f8f0f"/>
<rect x="542" y="561" width="1" height="40" fill="#2f8f0f"/>
<rect x="541" y="584" width="3" height="5" fill="#2f8f0f"/>
<rect x="547" y="545" width="1" height="34" fill="#2f8f0f"/>
<rect x="546" y="547" width="3" height="31" fill="#2f8f0f"/>
<rect x="551" y="550" width="1" height="24" fill="#dc0a0a"/>
<rect x="550" y="564" width="3" height="5" fill="#dc0a0a"/>
<rect x="556" y="546" width="1" height="22" fill="#2f8f0f"/>
<rect x="555" y="548" width="3" height="17" fill="#2f8f0f"/>
<rect x="561" y="544" width="1" height="18" fill="#dc0a0a"/>
<rect x="560" y="550" width="3" height="9" fill="#dc0a0a"/>
<rect x="566" y="572" width="1" height="19" fill="#dc0a0a"/>
<rect x="565" y="578" width="3" height="8" fill="#dc0a0a"/>
<rect x="570" y="570" width="1" height="19" fill="#2f8f0f"/>
<rect x="569" y="571" width="3" height="18" fill="#2f8f0f"/>
<rect x="575" y="569" width="1" height="19" fill="#dc0a0a"/>
<rect x="574" y="574" width="3" height="7" fill="#dc0a0a"/>
<rect x="580" y="536" width="1" height="25" fill="#2f8f0f"/>
<rect x="579" y="539" width="3" height="21" fill="#2f8f0f"/>
<rect x="585" y="517" width="1" height="24" fill="#dc0a0a"/>
<rect x="584" y="521" width="3" height="20" fill="#dc0a0a"/>
<rect x="589" y="516" width="1" height="24" fill="#2f8f0f"/>
<rect x="588" y="518" width="3" height="17" fill="#2f8f0f"/>
<rect x="594" y="502" width="1" height="14" fill="#2f8f0f"/>
<rect x="593" y="509" width="3" height="4" fill="#2f8f0f"/>
<rect x="599" y="511" width="1" height="15" fill="#dc0a0a"/>
<rect x="598" y="511" width="3" height="6" fill="#dc0a0a"/>
<rect x="604" y="494" width="1" height="12" fill="#2f8f0f"/>
<rect x="603" y="495" width="3" height="11" fill="#2f8f0f"/>
<path d="M9.0 475.7 L13.8 474.4 L18.5 472.0 L23.3 469.9 L28.0 469.1 L32.8 467.4 L37.6 465.0 L42.3 462.9 L47.1 461.2 L51.9 460.0 L56.6 458.2 L61.4 457.3 L66.1 455.9 L70.9 455.0 L75.7 453.0 L80.4 451.3 L85.2 449.5 L90.0 447.7 L94.7 446.0 L99.5 444.3 L104.2 443.2 L109.0 441.9 L113.8 440.7 L118.5 439.3 L123.3 438.1 L128.0 437.0 L132.8 435.9 L137.6 435.2 L142.3 434.7 L147.1 434.3 L151.9 433.2 L156.6 432.1 L161.4 430.6 L166.1 429.6 L170.9 429.7 L175.7 430.4 L180.4 430.6 L185.2 430.4 L190.0 429.4 L194.7 428.8 L199.5 428.8 L204.2 428.8 L209.0 428.4 L213.8 427.8 L218.5 425.9 L223.3 423.6 L228.1 421.7 L232.8 419.6 L237.6 417.8 L242.3 415.7 L247.1 413.6 L251.9 411.2 L256.6 409.5 L261.4 408.3 L266.1 407.3 L270.9 405.8 L275.7 404.7 L280.4 403.8 L285.2 403.4 L290.0 402.7 L294.7 401.5 L299.5 400.9 L304.2 399.7 L309.0 398.3 L313.8 396.9 L318.5 395.5 L323.3 393.2 L328.1 391.4 L332.8 389.4 L337.6 387.7 L342.3 387.2 L347.1 387.7 L351.9 388.0 L356.6 388.3 L361.4 388.4 L366.1 390.6 L370.9 392.5 L375.7 393.0 L380.4 392.7 L385.2 392.2 L390.0 391.5 L394.7 388.9 L399.5 387.0 L404.2 384.4 L409.0 382.3 L413.8 378.6 L418.5 375.7 L423.3 373.6 L428.1 372.7 L432.8 372.9 L437.6 375.3 L442.3 380.6 L447.1 386.4 L451.9 395.9 L456.6 405.9 L461.4 412.8 L466.2 421.5 L470.9 427.6 L475.7 435.9 L480.4 444.6 L485.2 456.0 L490.0 461.8 L494.7 470.7 L499.5 482.6 L504.2 488.4 L509.0 505.1 L513.8 516.4 L518.5 533.8 L523.3 548.4 L528.1 564.3 L532.8 576.4 L537.6 586.7 L542.3 593.0 L547.1 589.5 L551.9 593.5 L556.6 587.8 L561.4 586.5 L566.2 584.7 L570.9 582.0 L575.7 577.6 L580.4 567.4 L585.2 562.4 L590.0 555.9 L594.7 552.1 L599.5 546.8 L604.2 541.6" fill="none" stroke="#3a9c10" stroke-width="1.2" stroke-linejoin="round"/></g>
<rect x="5" y="767" width="842" height="1" fill="#7800b4"/>
<rect x="12" y="765" width="1" height="2" fill="#0cf50c"/>
<rect x="17" y="764" width="1" height="3" fill="#0cf50c"/>
<rect x="22" y="763" width="1" height="4" fill="#0cf50c"/>
<rect x="27" y="763" width="1" height="4" fill="#0c5a0c"/>
<rect x="31" y="762" width="1" height="5" fill="#0cf50c"/>
<rect x="36" y="763" width="1" height="4" fill="#0c5a0c"/>
<rect x="41" y="763" width="1" height="4" fill="#0c5a0c"/>
<rect x="46" y="763" width="1" height="4" fill="#0c5a0c"/>
<rect x="50" y="763" width="1" height="4" fill="#0cf50c"/>
<rect x="55" y="762" width="1" height="5" fill="#0cf50c"/>
<rect x="60" y="762" width="1" height="5" fill="#0c5a0c"/>
<rect x="65" y="762" width="1" height="5" fill="#0cf50c"/>
<rect x="69" y="763" width="1" height="4" fill="#0c5a0c"/>
<rect x="74" y="762" width="1" height="5" fill="#0cf50c"/>
<rect x="79" y="762" width="1" height="5" fill="#0cf50c"/>
<rect x="84" y="762" width="1" height="5" fill="#0c5a0c"/>
<rect x="88" y="763" width="1" height="4" fill="#0c5a0c"/>
<rect x="93" y="763" width="1" height="4" fill="#0c5a0c"/>
<rect x="98" y="763" width="1" height="4" fill="#0c5a0c"/>
<rect x="103" y="764" width="1" height="3" fill="#0c5a0c"/>
<rect x="108" y="764" width="1" height="3" fill="#0c5a0c"/>
<rect x="112" y="765" width="1" height="2" fill="#0c5a0c"/>
<rect x="117" y="765" width="1" height="2" fill="#0c5a0c"/>
<rect x="122" y="765" width="1" height="2" fill="#0cf50c"/>
<rect x="127" y="765" width="1" height="2" fill="#0cf50c"/>
<rect x="131" y="765" width="1" height="2" fill="#0c5a0c"/>
<rect x="136" y="766" width="1" height="1" fill="#0c5a0c"/>
<rect x="160" y="766" width="1" height="1" fill="#0cf50c"/>
<rect x="165" y="766" width="1" height="1" fill="#0c5a0c"/>
<rect x="174" y="768" width="1" height="2" fill="#e40808"/>
<rect x="179" y="768" width="1" height="2" fill="#e40808"/>
<rect x="184" y="768" width="1" height="2" fill="#e40808"/>
<rect x="188" y="768" width="1" height="1" fill="#800808"/>
<rect x="193" y="768" width="1" height="1" fill="#800808"/>
<rect x="198" y="768" width="1" height="1" fill="#800808"/>
<rect x="212" y="766" width="1" height="1" fill="#0cf50c"/>
<rect x="217" y="765" width="1" height="2" fill="#0cf50c"/>
<rect x="222" y="765" width="1" height="2" fill="#0cf50c"/>
<rect x="227" y="765" width="1" height="2" fill="#0cf50c"/>
<rect x="231" y="764" width="1" height="3" fill="#0cf50c"/>
<rect x="236" y="764" width="1" height="3" fill="#0cf50c"/>
<rect x="241" y="764" width="1" height="3" fill="#0cf50c"/>
<rect x="246" y="764" width="1" height="3" fill="#0c5a0c"/>
<rect x="250" y="764" width="1" height="3" fill="#0cf50c"/>
<rect x="255" y="764" width="1" height="3" fill="#0c5a0c"/>
<rect x="260" y="765" width="1" height="2" fill="#0c5a0c"/>
<rect x="265" y="766" width="1" height="1" fill="#0c5a0c"/>
<rect x="269" y="765" width="1" height="2" fill="#0cf50c"/>
<rect x="274" y="766" width="1" height="1" fill="#0c5a0c"/>
<rect x="279" y="766" width="1" height="1" fill="#0c5a0c"/>
<rect x="303" y="766" width="1" height="1" fill="#0cf50c"/>
<rect x="308" y="766" width="1" height="1" fill="#0c5a0c"/>
<rect x="312" y="766" width="1" height="1" fill="#0cf50c"/>
<rect x="317" y="765" width="1" height="2" fill="#0cf50c"/>
<rect x="322" y="764" width="1" height="3" fill="#0cf50c"/>
<rect x="327" y="765" width="1" height="2" fill="#0c5a0c"/>
<rect x="331" y="765" width="1" height="2" fill="#0c5a0c"/>
<rect x="336" y="765" width="1" height="2" fill="#0c5a0c"/>
<rect x="346" y="768" width="1" height="2" fill="#e40808"/>
<rect x="350" y="768" width="1" height="3" fill="#e40808"/>
<rect x="355" y="768" width="1" height="4" fill="#e40808"/>
<rect x="360" y="768" width="1" height="4" fill="#800808"/>
<rect x="365" y="768" width="1" height="6" fill="#e40808"/>
<rect x="369" y="768" width="1" height="6" fill="#e40808"/>
<rect x="374" y="768" width="1" height="4" fill="#800808"/>
<rect x="379" y="768" width="1" height="1" fill="#800808"/>
<rect x="388" y="766" width="1" height="1" fill="#0cf50c"/>
<rect x="393" y="765" width="1" height="2" fill="#0cf50c"/>
<rect x="398" y="764" width="1" height="3" fill="#0cf50c"/>
<rect x="403" y="763" width="1" height="4" fill="#0cf50c"/>
<rect x="408" y="763" width="1" height="4" fill="#0cf50c"/>
<rect x="412" y="763" width="1" height="4" fill="#0c5a0c"/>
<rect x="417" y="764" width="1" height="3" fill="#0c5a0c"/>
<rect x="422" y="764" width="1" height="3" fill="#0c5a0c"/>
<rect x="427" y="765" width="1" height="2" fill="#0c5a0c"/>
<rect x="436" y="768" width="1" height="5" fill="#e40808"/>
<rect x="441" y="768" width="1" height="12" fill="#e40808"/>
<rect x="446" y="768" width="1" height="17" fill="#e40808"/>
<rect x="450" y="768" width="1" height="24" fill="#e40808"/>
<rect x="455" y="768" width="1" height="28" fill="#e40808"/>
<rect x="460" y="768" width="1" height="24" fill="#800808"/>
<rect x="465" y="768" width="1" height="23" fill="#800808"/>
<rect x="469" y="768" width="1" height="17" fill="#800808"/>
<rect x="474" y="768" width="1" height="15" fill="#800808"/>
<rect x="479" y="768" width="1" height="15" fill="#e40808"/>
<rect x="484" y="768" width="1" height="23" fill="#e40808"/>
<rect x="488" y="768" width="1" height="21" fill="#800808"/>
<rect x="493" y="768" width="1" height="24" fill="#e40808"/>
<rect x="498" y="768" width="1" height="34" fill="#e40808"/>
<rect x="503" y="768" width="1" height="29" fill="#800808"/>
<rect x="508" y="768" width="1" height="36" fill="#e40808"/>
<rect x="512" y="768" width="1" height="33" fill="#800808"/>
<rect x="517" y="768" width="1" height="33" fill="#e40808"/>
<rect x="522" y="768" width="1" height="30" fill="#800808"/>
<rect x="527" y="768" width="1" height="30" fill="#800808"/>
<rect x="531" y="768" width="1" height="30" fill="#800808"/>
<rect x="536" y="768" width="1" height="19" fill="#800808"/>
<rect x="541" y="768" width="1" height="9" fill="#800808"/>
<rect x="546" y="763" width="1" height="4" fill="#0cf50c"/>
<rect x="550" y="756" width="1" height="11" fill="#0cf50c"/>
<rect x="555" y="749" width="1" height="18" fill="#0cf50c"/>
<rect x="560" y="745" width="1" height="22" fill="#0cf50c"/>
<rect x="565" y="748" width="1" height="19" fill="#0c5a0c"/>
<rect x="569" y="747" width="1" height="20" fill="#0cf50c"/>
<rect x="574" y="748" width="1" height="19" fill="#0c5a0c"/>
<rect x="579" y="742" width="1" height="25" fill="#0cf50c"/>
<rect x="584" y="739" width="1" height="28" fill="#0cf50c"/>
<rect x="588" y="734" width="1" height="33" fill="#0cf50c"/>
<rect x="593" y="731" width="1" height="36" fill="#0cf50c"/>
<rect x="598" y="731" width="1" height="36" fill="#0c5a0c"/>
<rect x="603" y="729" width="1" height="38" fill="#0cf50c"/>
<path d="M9.0 769.3 L13.8 768.8 L18.5 768.1 L23.3 767.1 L28.0 766.2 L32.8 765.2 L37.6 764.2 L42.3 763.3 L47.1 762.4 L51.9 761.5 L56.6 760.4 L61.4 759.3 L66.1 758.2 L70.9 757.2 L75.7 756.2 L80.4 755.0 L85.2 753.9 L90.0 752.9 L94.7 752.0 L99.5 751.1 L104.2 750.4 L109.0 749.8 L113.8 749.4 L118.5 749.1 L123.3 748.6 L128.0 748.2 L132.8 747.8 L137.6 747.7 L142.3 747.8 L147.1 748.0 L151.9 748.2 L156.6 748.2 L161.4 748.0 L166.1 747.9 L170.9 748.2 L175.7 749.0 L180.4 749.8 L185.2 750.7 L190.0 751.3 L194.7 751.8 L199.5 752.3 L204.2 752.7 L209.0 752.8 L213.8 752.8 L218.5 752.4 L223.3 751.9 L228.1 751.4 L232.8 750.8 L237.6 750.1 L242.3 749.3 L247.1 748.6 L251.9 747.8 L256.6 747.1 L261.4 746.7 L266.1 746.5 L270.9 746.2 L275.7 746.1 L280.4 746.0 L285.2 746.2 L290.0 746.3 L294.7 746.3 L299.5 746.4 L304.2 746.2 L309.0 746.1 L313.8 746.0 L318.5 745.6 L323.3 745.1 L328.1 744.6 L332.8 744.2 L337.6 743.8 L342.3 744.0 L347.1 744.9 L351.9 746.0 L356.6 747.3 L361.4 748.5 L366.1 750.3 L370.9 752.1 L375.7 753.4 L380.4 754.0 L385.2 754.0 L390.0 753.9 L394.7 753.5 L399.5 752.9 L404.2 752.0 L409.0 751.1 L413.8 750.2 L418.5 749.5 L423.3 748.8 L428.1 748.3 L432.8 748.4 L437.6 750.0 L442.3 753.5 L447.1 758.0 L451.9 764.4 L456.6 771.9 L461.4 778.3 L466.2 784.5 L470.9 789.0 L475.7 793.2 L480.4 797.4 L485.2 803.5 L490.0 809.1 L494.7 815.4 L499.5 824.3 L504.2 831.8 L509.0 841.3 L513.8 849.8 L518.5 858.4 L523.3 866.3 L528.1 874.1 L532.8 881.9 L537.6 887.0 L542.3 889.5 L547.1 888.4 L551.9 885.9 L556.6 881.3 L561.4 876.0 L566.2 871.3 L570.9 866.4 L575.7 861.8 L580.4 855.8 L585.2 848.9 L590.0 840.9 L594.7 831.9 L599.5 823.0 L604.2 813.6" fill="none" stroke="#b02c2c" stroke-width="1.15" stroke-linejoin="round"/>
<path d="M9.0 769.4 L13.8 766.8 L18.5 765.1 L23.3 763.3 L28.0 762.6 L32.8 761.1 L37.6 760.4 L42.3 759.6 L47.1 758.8 L51.9 757.6 L56.6 756.0 L61.4 754.9 L66.1 753.8 L70.9 753.5 L75.7 752.0 L80.4 750.4 L85.2 749.5 L90.0 748.9 L94.7 748.3 L99.5 747.6 L104.2 747.6 L109.0 747.5 L113.8 747.6 L118.5 747.8 L123.3 747.0 L128.0 746.5 L132.8 746.4 L137.6 747.2 L142.3 748.2 L147.1 749.0 L151.9 748.6 L156.6 748.2 L161.4 747.4 L166.1 747.7 L170.9 749.4 L175.7 752.0 L180.4 753.2 L185.2 754.1 L190.0 753.6 L194.7 753.8 L199.5 754.3 L204.2 754.4 L209.0 753.3 L213.8 752.5 L218.5 751.0 L223.3 750.0 L228.1 749.4 L232.8 748.4 L237.6 747.1 L242.3 746.2 L247.1 745.8 L251.9 744.8 L256.6 744.3 L261.4 745.1 L266.1 745.6 L270.9 744.8 L275.7 745.6 L280.4 745.9 L285.2 746.8 L290.0 747.0 L294.7 746.3 L299.5 746.4 L304.2 745.7 L309.0 745.6 L313.8 745.4 L318.5 744.2 L323.3 742.9 L328.1 742.6 L332.8 742.5 L337.6 742.6 L342.3 744.4 L347.1 748.7 L351.9 750.6 L356.6 752.4 L361.4 753.5 L366.1 757.4 L370.9 759.4 L375.7 758.6 L380.4 756.3 L385.2 754.1 L390.0 753.4 L394.7 751.8 L399.5 750.4 L404.2 748.5 L409.0 747.5 L413.8 746.6 L418.5 746.6 L423.3 746.1 L428.1 746.5 L432.8 748.8 L437.6 756.4 L442.3 767.2 L447.1 776.3 L451.9 790.0 L456.6 801.8 L461.4 803.9 L466.2 809.4 L470.9 807.0 L475.7 809.8 L480.4 814.1 L485.2 828.1 L490.0 831.6 L494.7 840.6 L499.5 859.6 L504.2 862.1 L509.0 879.0 L513.8 883.9 L518.5 892.8 L523.3 897.8 L528.1 905.4 L532.8 913.1 L537.6 907.1 L542.3 899.5 L547.1 884.4 L551.9 875.6 L556.6 863.2 L561.4 854.6 L566.2 852.4 L570.9 846.9 L575.7 843.6 L580.4 831.5 L585.2 821.5 L590.0 808.7 L594.7 796.1 L599.5 787.4 L604.2 776.1" fill="none" stroke="#383838" stroke-width="1.15" stroke-linejoin="round"/></svg>
<div style="left:4px;top:697px;width:262px;height:25px;background:#f7f7f7;border:1px solid #cfcfcf;box-sizing:border-box"></div>
<div class="t " style="left:8.5px;top:701.82px;font-size:14.4px;color:#333;letter-spacing:0.215px">MACD (12, 26, 9, EXPONENTIAL, no)</div>
<div style="left:265px;top:697px;width:58.5px;height:25px;background:#f7f7f7;border:1px solid #cfcfcf;box-sizing:border-box"></div>
<div class="t " style="left:269.5px;top:701.82px;font-size:14.4px;color:#333;">-14.651</div>
<div style="left:322.5px;top:697px;width:67px;height:25px;background:#f7f7f7;border:1px solid #cfcfcf;box-sizing:border-box"></div>
<div class="t " style="left:327px;top:701.82px;font-size:14.4px;color:#a52a2a;">-75.5468</div>
<div style="left:388.5px;top:697px;width:62.5px;height:25px;background:#f7f7f7;border:1px solid #cfcfcf;box-sizing:border-box"></div>
<div class="t " style="left:393px;top:701.82px;font-size:14.4px;color:#1fe01f;">60.8958</div>
<div style="left:450px;top:697px;width:18px;height:25px;background:#f7f7f7;border:1px solid #cfcfcf;box-sizing:border-box"></div>
<div class="t " style="left:454.5px;top:701.82px;font-size:14.4px;color:#7a10b8;">0</div>
<div style="left:467px;top:697px;width:381px;height:25px;background:#f7f7f7;border:1px solid #cfcfcf;box-sizing:border-box"></div>
<div class="t" style="left:850px;top:446px;width:51px;height:16.5px;background:#333;border-radius:3px;color:#fff;font-size:14.67px;line-height:17px;text-align:center">3014.8</div>
<div class="t" style="left:850px;top:485.5px;width:58.5px;height:16.5px;background:#333;border-radius:3px;color:#fff;font-size:14.67px;line-height:17px;text-align:center">2846.06</div>
<div class="t" style="left:850px;top:532px;width:58.5px;height:16.5px;background:#2d9a12;border-radius:3px;color:#fff;font-size:14.67px;line-height:17px;text-align:center">2654.12</div>
<div class="t" style="left:850.5px;top:766.7px;width:55px;height:16.6px;background:#2b2b2b;border-radius:3px;color:#fff;font-size:14.67px;line-height:17.1px;text-align:center">-14.651</div>
<div class="t" style="left:850.5px;top:803.7px;width:55px;height:16.6px;background:#b03030;border-radius:3px;color:#fff;font-size:14.67px;line-height:17.1px;text-align:center">-75.547</div>
<div style="left:2px;top:942px;width:924px;height:28px;background:#fdfdfd;"></div>
<div style="left:2px;top:947.2px;width:586px;height:17.6px;background:#cacaca;"></div>
<div style="left:2px;top:947.2px;width:18px;height:17.6px;background:#e2e2e2;"></div>
<div style="left:588px;top:947.2px;width:40px;height:17.6px;background:#e2e2e2;"></div>
<svg style="left:0;top:940px" width="960" height="30"><path d="M8 15.7 l4.5 -3.6 v7.2z" fill="#444"/><path d="M301.5 13.3 v6.2 M304.2 13.3 v6.2 M306.9 13.3 v6.2" stroke="#444" stroke-width="1"/><path d="M597.5 16.5 l4.5 -3.5 v7z M614 13 l4.5 3.5 -4.5 3.5z" fill="#555"/><path d="M631 16.2 l6.5-5 v10z M651 16.2 l-6.5-5 v10z" fill="#222"/><path d="M639.5 12.2 v8 M642.5 12.2 v8" stroke="#222" stroke-width="1.4"/><circle cx="667.6" cy="16.8" r="7" fill="none" stroke="#222" stroke-width="1.5"/><path d="M667.6 8 v18 M659 16.8 h17.4" stroke="#222" stroke-width="1.4"/><circle cx="695" cy="14.5" r="7.2" fill="none" stroke="#222" stroke-width="1.6"/><path d="M700.3 19.8 l6.2 6.2" stroke="#222" stroke-width="2.4"/><path d="M691 14.5 h8 M695 10.5 v8" stroke="#222" stroke-width="1.5"/><circle cx="722" cy="14.5" r="7.2" fill="none" stroke="#222" stroke-width="1.6"/><path d="M727.3 19.8 l6.2 6.2" stroke="#222" stroke-width="2.4"/><path d="M718 14.5 h8" stroke="#222" stroke-width="1.5"/></svg>
<svg style="left:739.5px;top:944.5px" width="22" height="24" viewBox="0 0 24 26"><path d="M8.3 13.5 V4.2 q0-1.7 1.6-1.7 q1.6 0 1.6 1.7 V10 q0.2-1.3 1.6-1.1 q1.3 0.2 1.4 1.5 V11.4 q0.3-1.2 1.6-1 q1.2 0.2 1.3 1.4 V12.6 q0.4-1 1.5-0.8 q1.1 0.3 1.1 1.5 V17.5 q0 2.2-1 3.6 q-0.5 0.7-0.5 2 H9.6 q0-1.2-1-2.2 L4.8 16.8 q-1-1.2-0.1-2.2 q1-0.9 2.1 0.1 z" fill="none" stroke="#222" stroke-width="1.5" stroke-linejoin="round"/></svg>
<div class="t " style="left:780.3px;top:948.8px;font-size:14.63px;color:#2c2c2c;">Drawing set: Default</div>
<svg style="left:917px;top:960.5px" width="5" height="5" viewBox="0 0 5 5"><path d="M5 0 V5 H0z" fill="#222"/></svg>
<div style="left:925.3px;top:35px;width:28px;height:935px;background:#b5b5b5;"></div>
<div style="left:952.8px;top:35px;width:1.5px;height:935px;background:#a2a2a2;"></div>
<div style="left:925.3px;top:35px;width:1px;height:935px;background:#9c9c9c;"></div>
<div style="left:925.3px;top:459px;width:28px;height:1px;background:#a0a0a0;"></div>
<div style="left:925.3px;top:460px;width:28px;height:1px;background:#c6c6c6;"></div>
<div style="left:926.3px;top:460px;width:26.5px;height:62px;background:#f6f6f6;"></div>
<div style="left:925.3px;top:521px;width:28px;height:1px;background:#a0a0a0;"></div>
<div style="left:925.3px;top:522px;width:28px;height:1px;background:#c6c6c6;"></div>
<div style="left:925.3px;top:642.5px;width:28px;height:1px;background:#a0a0a0;"></div>
<div style="left:925.3px;top:643.5px;width:28px;height:1px;background:#c6c6c6;"></div>
<div style="left:925.3px;top:742.5px;width:28px;height:1px;background:#a0a0a0;"></div>
<div style="left:925.3px;top:743.5px;width:28px;height:1px;background:#c6c6c6;"></div>
<div style="left:925.3px;top:817px;width:28px;height:1px;background:#a0a0a0;"></div>
<div style="left:925.3px;top:818px;width:28px;height:1px;background:#c6c6c6;"></div>
<div style="left:925.3px;top:914.5px;width:28px;height:1px;background:#a0a0a0;"></div>
<div style="left:925.3px;top:915.5px;width:28px;height:1px;background:#c6c6c6;"></div>
<svg style="left:0;top:0" width="1920" height="972" font-family="Liberation Sans" font-size="14.8px" fill="#2e2e2e"><text transform="translate(946.1 451.4) rotate(-90)" textLength="76" lengthAdjust="spacingAndGlyphs">Big Buttons</text><text transform="translate(946.1 513.4) rotate(-90)" textLength="33" lengthAdjust="spacingAndGlyphs">Chart</text><text transform="translate(946.1 634.9) rotate(-90)" textLength="92.5" lengthAdjust="spacingAndGlyphs">Phase Scores</text><text transform="translate(946.1 734.9) rotate(-90)" textLength="71" lengthAdjust="spacingAndGlyphs">Dashboard</text><text transform="translate(946.1 809.4) rotate(-90)" textLength="45.5" lengthAdjust="spacingAndGlyphs">Level II</text><text transform="translate(946.1 906.9) rotate(-90)" textLength="68.5" lengthAdjust="spacingAndGlyphs">Live News</text></svg>
<div style="left:926px;top:33.5px;width:28.5px;height:6px;background:#fff;border:1px solid #aaa;box-sizing:border-box"></div>
<div style="left:967px;top:33px;width:108.4px;height:25px;background:#f7f7f7;border:1px solid #cfcfcf;box-sizing:border-box"></div>
<div class="t " style="left:971.5px;top:37.82px;font-size:14.67px;color:#111;font-weight:bold;">COMP 6 M 1D</div>
<div style="left:1074.4px;top:33px;width:77.2px;height:25px;background:#f7f7f7;border:1px solid #cfcfcf;box-sizing:border-box"></div>
<div class="t " style="left:1078.9px;top:37.82px;font-size:14.4px;color:#333;">D: 4/14/20</div>
<div style="left:1150.6px;top:33px;width:81.4px;height:25px;background:#f7f7f7;border:1px solid #cfcfcf;box-sizing:border-box"></div>
<div class="t " style="left:1155.1px;top:37.82px;font-size:14.4px;color:#333;">O: 8340.62</div>
<div style="left:1231px;top:33px;width:82px;height:25px;background:#f7f7f7;border:1px solid #cfcfcf;box-sizing:border-box"></div>
<div class="t " style="left:1235.5px;top:37.82px;font-size:14.4px;color:#333;">H: 8528.09</div>
<div style="left:1312px;top:33px;width:77px;height:25px;background:#f7f7f7;border:1px solid #cfcfcf;box-sizing:border-box"></div>
<div style="left:1388px;top:33px;width:81.4px;height:25px;background:#f7f7f7;border:1px solid #cfcfcf;box-sizing:border-box"></div>
<div class="t " style="left:1392.5px;top:37.82px;font-size:14.4px;color:#333;">C: 8515.74</div>
<div style="left:1468.4px;top:33px;width:73.6px;height:25px;background:#f7f7f7;border:1px solid #cfcfcf;box-sizing:border-box"></div>
<div class="t " style="left:1472.9px;top:37.82px;font-size:14.4px;color:#333;">R: 193.02</div>
<div style="left:1541px;top:33px;width:257.5px;height:25px;background:#f7f7f7;border:1px solid #cfcfcf;box-sizing:border-box"></div>
<div style="left:1797.5px;top:33px;width:13.5px;height:25px;background:#f7f7f7;border:1px solid #cfcfcf;box-sizing:border-box"></div>
<svg style="left:1541px;top:33px" width="272" height="25"><text x="4.6" y="18.2" font-family="Liberation Sans" font-size="14.5px" fill="#12368f" textLength="246" lengthAdjust="spacingAndGlyphs">SimpleMovingAvg (CLOSE, 50, 0, no)</text><path d="M258.1 16.9 h2.3 M261.9 16.9 h2.3 M265.7 16.9 h2.3" stroke="#111" stroke-width="2.4"/></svg>
<div class="t " style="left:1355.7px;top:38.6px;font-size:14.4px;color:#333;">8.09</div>
<div style="left:967px;top:57px;width:921px;height:864px;background:#fafafa;"></div>
<div style="left:967px;top:57px;width:844px;height:664px;background:#fafafa;border:1px solid #c4c4c4;box-sizing:border-box"></div>
<div style="left:969px;top:723px;width:919px;height:2px;background:#e2e2e2;"></div>
<div style="left:967px;top:751px;width:921px;height:170px;background:#fafafa;"></div>
<div style="left:967px;top:751px;width:844px;height:170px;background:#fafafa;border:1px solid #c4c4c4;box-sizing:border-box"></div>
<div style="left:967px;top:921px;width:921px;height:21.5px;background:#f7f7f7;"></div>
<svg style="left:0;top:0" width="1920" height="972"><defs><clipPath id="c967"><rect x="968" y="58" width="842" height="662"/></clipPath></defs><line x1="972" y1="697.5" x2="1795" y2="697.5" class="g"/>
<line x1="1806" y1="697.5" x2="1810" y2="697.5" stroke="#000" shape-rendering="crispEdges"/>
<line x1="968" y1="697.5" x2="973" y2="697.5" stroke="#000" shape-rendering="crispEdges"/>
<line x1="972" y1="648.5" x2="1795" y2="648.5" class="g"/>
<line x1="1806" y1="648.5" x2="1810" y2="648.5" stroke="#000" shape-rendering="crispEdges"/>
<line x1="968" y1="648.5" x2="973" y2="648.5" stroke="#000" shape-rendering="crispEdges"/>
<line x1="972" y1="599.5" x2="1795" y2="599.5" class="g"/>
<line x1="1806" y1="599.5" x2="1810" y2="599.5" stroke="#000" shape-rendering="crispEdges"/>
<line x1="968" y1="599.5" x2="973" y2="599.5" stroke="#000" shape-rendering="crispEdges"/>
<line x1="972" y1="550.5" x2="1795" y2="550.5" class="g"/>
<line x1="1806" y1="550.5" x2="1810" y2="550.5" stroke="#000" shape-rendering="crispEdges"/>
<line x1="968" y1="550.5" x2="973" y2="550.5" stroke="#000" shape-rendering="crispEdges"/>
<line x1="972" y1="501.5" x2="1795" y2="501.5" class="g"/>
<line x1="1806" y1="501.5" x2="1810" y2="501.5" stroke="#000" shape-rendering="crispEdges"/>
<line x1="968" y1="501.5" x2="973" y2="501.5" stroke="#000" shape-rendering="crispEdges"/>
<line x1="972" y1="452.5" x2="1795" y2="452.5" class="g"/>
<line x1="1806" y1="452.5" x2="1810" y2="452.5" stroke="#000" shape-rendering="crispEdges"/>
<line x1="968" y1="452.5" x2="973" y2="452.5" stroke="#000" shape-rendering="crispEdges"/>
<line x1="972" y1="403.5" x2="1795" y2="403.5" class="g"/>
<line x1="1806" y1="403.5" x2="1810" y2="403.5" stroke="#000" shape-rendering="crispEdges"/>
<line x1="968" y1="403.5" x2="973" y2="403.5" stroke="#000" shape-rendering="crispEdges"/>
<line x1="972" y1="354.5" x2="1795" y2="354.5" class="g"/>
<line x1="1806" y1="354.5" x2="1810" y2="354.5" stroke="#000" shape-rendering="crispEdges"/>
<line x1="968" y1="354.5" x2="973" y2="354.5" stroke="#000" shape-rendering="crispEdges"/>
<line x1="972" y1="305.5" x2="1795" y2="305.5" class="g"/>
<line x1="1806" y1="305.5" x2="1810" y2="305.5" stroke="#000" shape-rendering="crispEdges"/>
<line x1="968" y1="305.5" x2="973" y2="305.5" stroke="#000" shape-rendering="crispEdges"/>
<line x1="972" y1="256.5" x2="1795" y2="256.5" class="g"/>
<line x1="1806" y1="256.5" x2="1810" y2="256.5" stroke="#000" shape-rendering="crispEdges"/>
<line x1="968" y1="256.5" x2="973" y2="256.5" stroke="#000" shape-rendering="crispEdges"/>
<line x1="972" y1="207.5" x2="1795" y2="207.5" class="g"/>
<line x1="1806" y1="207.5" x2="1810" y2="207.5" stroke="#000" shape-rendering="crispEdges"/>
<line x1="968" y1="207.5" x2="973" y2="207.5" stroke="#000" shape-rendering="crispEdges"/>
<line x1="972" y1="158.5" x2="1795" y2="158.5" class="g"/>
<line x1="1806" y1="158.5" x2="1810" y2="158.5" stroke="#000" shape-rendering="crispEdges"/>
<line x1="968" y1="158.5" x2="973" y2="158.5" stroke="#000" shape-rendering="crispEdges"/>
<line x1="972" y1="109.5" x2="1795" y2="109.5" class="g"/>
<line x1="1806" y1="109.5" x2="1810" y2="109.5" stroke="#000" shape-rendering="crispEdges"/>
<line x1="968" y1="109.5" x2="973" y2="109.5" stroke="#000" shape-rendering="crispEdges"/>
<line x1="972" y1="792.5" x2="1795" y2="792.5" class="g"/>
<line x1="1806" y1="792.5" x2="1810" y2="792.5" stroke="#000" shape-rendering="crispEdges"/>
<line x1="968" y1="792.5" x2="973" y2="792.5" stroke="#000" shape-rendering="crispEdges"/>
<line x1="972" y1="833.5" x2="1795" y2="833.5" class="g"/>
<line x1="1806" y1="833.5" x2="1810" y2="833.5" stroke="#000" shape-rendering="crispEdges"/>
<line x1="968" y1="833.5" x2="973" y2="833.5" stroke="#000" shape-rendering="crispEdges"/>
<line x1="972" y1="873.5" x2="1795" y2="873.5" class="g"/>
<line x1="1806" y1="873.5" x2="1810" y2="873.5" stroke="#000" shape-rendering="crispEdges"/>
<line x1="968" y1="873.5" x2="973" y2="873.5" stroke="#000" shape-rendering="crispEdges"/>
<line x1="972" y1="914.5" x2="1795" y2="914.5" class="g"/>
<line x1="1806" y1="914.5" x2="1810" y2="914.5" stroke="#000" shape-rendering="crispEdges"/>
<line x1="968" y1="914.5" x2="973" y2="914.5" stroke="#000" shape-rendering="crispEdges"/>
<line x1="1036.5" y1="62" x2="1036.5" y2="711" class="g"/>
<line x1="1036.5" y1="756" x2="1036.5" y2="911" class="g"/>
<line x1="1036.5" y1="58" x2="1036.5" y2="62" stroke="#000" shape-rendering="crispEdges"/>
<line x1="1036.5" y1="716" x2="1036.5" y2="720" stroke="#000" shape-rendering="crispEdges"/>
<line x1="1036.5" y1="752" x2="1036.5" y2="756" stroke="#000" shape-rendering="crispEdges"/>
<line x1="1036.5" y1="916" x2="1036.5" y2="920" stroke="#000" shape-rendering="crispEdges"/>
<line x1="1131.5" y1="62" x2="1131.5" y2="711" class="g"/>
<line x1="1131.5" y1="756" x2="1131.5" y2="911" class="g"/>
<line x1="1131.5" y1="58" x2="1131.5" y2="62" stroke="#000" shape-rendering="crispEdges"/>
<line x1="1131.5" y1="716" x2="1131.5" y2="720" stroke="#000" shape-rendering="crispEdges"/>
<line x1="1131.5" y1="752" x2="1131.5" y2="756" stroke="#000" shape-rendering="crispEdges"/>
<line x1="1131.5" y1="916" x2="1131.5" y2="920" stroke="#000" shape-rendering="crispEdges"/>
<line x1="1231.5" y1="62" x2="1231.5" y2="711" class="g"/>
<line x1="1231.5" y1="756" x2="1231.5" y2="911" class="g"/>
<line x1="1231.5" y1="58" x2="1231.5" y2="62" stroke="#000" shape-rendering="crispEdges"/>
<line x1="1231.5" y1="716" x2="1231.5" y2="720" stroke="#000" shape-rendering="crispEdges"/>
<line x1="1231.5" y1="752" x2="1231.5" y2="756" stroke="#000" shape-rendering="crispEdges"/>
<line x1="1231.5" y1="916" x2="1231.5" y2="920" stroke="#000" shape-rendering="crispEdges"/>
<line x1="1331.5" y1="62" x2="1331.5" y2="711" class="g"/>
<line x1="1331.5" y1="756" x2="1331.5" y2="911" class="g"/>
<line x1="1331.5" y1="58" x2="1331.5" y2="62" stroke="#000" shape-rendering="crispEdges"/>
<line x1="1331.5" y1="716" x2="1331.5" y2="720" stroke="#000" shape-rendering="crispEdges"/>
<line x1="1331.5" y1="752" x2="1331.5" y2="756" stroke="#000" shape-rendering="crispEdges"/>
<line x1="1331.5" y1="916" x2="1331.5" y2="920" stroke="#000" shape-rendering="crispEdges"/>
<line x1="1422.5" y1="62" x2="1422.5" y2="711" class="g"/>
<line x1="1422.5" y1="756" x2="1422.5" y2="911" class="g"/>
<line x1="1422.5" y1="58" x2="1422.5" y2="62" stroke="#000" shape-rendering="crispEdges"/>
<line x1="1422.5" y1="716" x2="1422.5" y2="720" stroke="#000" shape-rendering="crispEdges"/>
<line x1="1422.5" y1="752" x2="1422.5" y2="756" stroke="#000" shape-rendering="crispEdges"/>
<line x1="1422.5" y1="916" x2="1422.5" y2="920" stroke="#000" shape-rendering="crispEdges"/>
<line x1="1527.5" y1="62" x2="1527.5" y2="711" class="g"/>
<line x1="1527.5" y1="756" x2="1527.5" y2="911" class="g"/>
<line x1="1527.5" y1="58" x2="1527.5" y2="62" stroke="#000" shape-rendering="crispEdges"/>
<line x1="1527.5" y1="716" x2="1527.5" y2="720" stroke="#000" shape-rendering="crispEdges"/>
<line x1="1527.5" y1="752" x2="1527.5" y2="756" stroke="#000" shape-rendering="crispEdges"/>
<line x1="1527.5" y1="916" x2="1527.5" y2="920" stroke="#000" shape-rendering="crispEdges"/>
<line x1="1627.5" y1="62" x2="1627.5" y2="711" class="g"/>
<line x1="1627.5" y1="756" x2="1627.5" y2="911" class="g"/>
<line x1="1627.5" y1="58" x2="1627.5" y2="62" stroke="#000" shape-rendering="crispEdges"/>
<line x1="1627.5" y1="716" x2="1627.5" y2="720" stroke="#000" shape-rendering="crispEdges"/>
<line x1="1627.5" y1="752" x2="1627.5" y2="756" stroke="#000" shape-rendering="crispEdges"/>
<line x1="1627.5" y1="916" x2="1627.5" y2="920" stroke="#000" shape-rendering="crispEdges"/>
<line x1="1722.5" y1="62" x2="1722.5" y2="711" class="g"/>
<line x1="1722.5" y1="756" x2="1722.5" y2="911" class="g"/>
<line x1="1722.5" y1="58" x2="1722.5" y2="62" stroke="#000" shape-rendering="crispEdges"/>
<line x1="1722.5" y1="716" x2="1722.5" y2="720" stroke="#000" shape-rendering="crispEdges"/>
<line x1="1722.5" y1="752" x2="1722.5" y2="756" stroke="#000" shape-rendering="crispEdges"/>
<line x1="1722.5" y1="916" x2="1722.5" y2="920" stroke="#000" shape-rendering="crispEdges"/>
<text x="1813.2" y="702.7" class="ax">6500</text>
<text x="1813.2" y="653.7" class="ax">7000</text>
<text x="1813.2" y="604.7" class="ax">7500</text>
<text x="1813.2" y="555.7" class="ax">8000</text>
<text x="1813.2" y="457.7" class="ax">9000</text>
<text x="1813.2" y="408.7" class="ax">9500</text>
<text x="1813.2" y="359.7" class="ax">10000</text>
<text x="1813.2" y="310.7" class="ax">10500</text>
<text x="1813.2" y="261.7" class="ax">11000</text>
<text x="1813.2" y="212.7" class="ax">11500</text>
<text x="1813.2" y="163.7" class="ax">12000</text>
<text x="1813.2" y="114.7" class="ax">12500</text>
<text x="1813.2" y="65.7" class="ax">13000</text>
<text x="1813.2" y="797.7" class="ax">0</text>
<text x="1813.2" y="838.7" class="ax">-200</text>
<text x="1813.2" y="878.7" class="ax">-400</text>
<text x="1813.2" y="919.7" class="ax">-600</text>
<text x="1035.5" y="938" class="ax" style="font-size:14.9px">Nov</text>
<text x="1130.5" y="938" class="ax" style="font-size:14.9px">Dec</text>
<text x="1230.5" y="938" class="ax" style="font-size:14.9px">20</text>
<text x="1330.5" y="938" class="ax" style="font-size:14.9px">Feb</text>
<text x="1421.5" y="938" class="ax" style="font-size:14.9px">Mar</text>
<text x="1526.5" y="938" class="ax" style="font-size:14.9px">Apr</text>
<text x="1626.5" y="938" class="ax" style="font-size:14.9px">May</text>
<text x="1721.5" y="938" class="ax" style="font-size:14.9px">Jun</text>
<g clip-path="url(#c967)"><path d="M971.9 573.7 L976.7 572.9 L981.4 572.2 L986.2 571.5 L990.9 570.8 L995.7 570.2 L1000.5 569.5 L1005.2 568.9 L1010.0 568.2 L1014.8 567.6 L1019.5 566.9 L1024.3 566.3 L1029.0 565.6 L1033.8 565.0 L1038.6 564.3 L1043.3 563.7 L1048.1 563.0 L1052.9 562.4 L1057.6 561.8 L1062.4 561.2 L1067.1 560.6 L1071.9 560.0 L1076.7 559.4 L1081.4 558.8 L1086.2 558.2 L1091.0 557.6 L1095.7 557.1 L1100.5 556.5 L1105.2 556.0 L1110.0 555.4 L1114.8 554.8 L1119.5 554.2 L1124.3 553.6 L1129.0 553.0 L1133.8 552.5 L1138.6 552.0 L1143.3 551.4 L1148.1 550.9 L1152.9 550.4 L1157.6 549.8 L1162.4 549.3 L1167.1 548.8 L1171.9 548.2 L1176.7 547.7 L1181.4 547.0 L1186.2 546.4 L1191.0 545.7 L1195.7 545.0 L1200.5 544.3 L1205.2 543.6 L1210.0 542.9 L1214.8 542.2 L1219.5 541.4 L1224.3 540.8 L1229.0 540.1 L1233.8 539.3 L1238.6 538.7 L1243.3 538.0 L1248.1 537.3 L1252.9 536.6 L1257.6 535.8 L1262.4 535.1 L1267.1 534.4 L1271.9 533.7 L1276.7 532.9 L1281.4 532.2 L1286.2 531.4 L1291.0 530.7 L1295.7 529.9 L1300.5 529.2 L1305.2 528.5 L1310.0 527.9 L1314.8 527.2 L1319.5 526.6 L1324.3 525.9 L1329.0 525.4 L1333.8 524.7 L1338.6 524.0 L1343.3 523.3 L1348.1 522.6 L1352.9 521.9 L1357.6 521.1 L1362.4 520.4 L1367.1 519.6 L1371.9 518.8 L1376.7 518.0 L1381.4 517.3 L1386.2 516.5 L1391.0 515.7 L1395.7 515.0 L1400.5 514.5 L1405.2 514.0 L1410.0 513.5 L1414.8 513.3 L1419.5 513.0 L1424.3 512.4 L1429.1 512.1 L1433.8 511.5 L1438.6 511.0 L1443.3 510.6 L1448.1 510.5 L1452.9 510.2 L1457.6 510.0 L1462.4 510.2 L1467.1 510.1 L1471.9 510.4 L1476.7 510.5 L1481.4 510.7 L1486.2 510.8 L1491.0 511.1 L1495.7 511.4 L1500.5 511.4 L1505.2 511.5 L1510.0 511.4 L1514.8 511.5 L1519.5 511.4 L1524.3 511.4 L1529.1 511.6 L1533.8 511.7 L1538.6 511.9 L1543.3 511.8 L1548.1 511.8 L1552.9 511.7 L1557.6 511.6 L1562.4 511.4 L1567.2 511.2" fill="none" stroke="#383838" stroke-width="1.05" stroke-linejoin="round"/>
<path d="M971.9 552.6 L976.7 551.8 L981.4 551.2 L986.2 550.7 L990.9 550.6 L995.7 550.2 L1000.5 549.7 L1005.2 549.5 L1010.0 548.7 L1014.8 547.7 L1019.5 546.9 L1024.3 546.4 L1029.0 545.7 L1033.8 545.1 L1038.6 544.3 L1043.3 543.0 L1048.1 541.9 L1052.9 540.7 L1057.6 539.6 L1062.4 538.6 L1067.1 537.6 L1071.9 536.4 L1076.7 535.4 L1081.4 534.7 L1086.2 533.9 L1091.0 532.9 L1095.7 532.0 L1100.5 531.3 L1105.2 530.7 L1110.0 530.0 L1114.8 529.1 L1119.5 528.2 L1124.3 527.1 L1129.0 526.2 L1133.8 525.3 L1138.6 524.5 L1143.3 523.4 L1148.1 522.4 L1152.9 521.2 L1157.6 519.8 L1162.4 518.6 L1167.1 517.2 L1171.9 515.3 L1176.7 513.6 L1181.4 512.0 L1186.2 510.3 L1191.0 508.3 L1195.7 506.4 L1200.5 504.5 L1205.2 502.8 L1210.0 501.0 L1214.8 499.3 L1219.5 497.5 L1224.3 496.0 L1229.0 494.3 L1233.8 492.4 L1238.6 490.6 L1243.3 488.8 L1248.1 487.0 L1252.9 485.3 L1257.6 483.6 L1262.4 481.8 L1267.1 479.9 L1271.9 478.0 L1276.7 476.3 L1281.4 474.5 L1286.2 472.6 L1291.0 470.7 L1295.7 468.9 L1300.5 467.1 L1305.2 465.4 L1310.0 464.1 L1314.8 462.6 L1319.5 461.0 L1324.3 459.5 L1329.0 458.3 L1333.8 457.0 L1338.6 455.1 L1343.3 453.1 L1348.1 451.1 L1352.9 449.3 L1357.6 447.4 L1362.4 445.6 L1367.1 443.5 L1371.9 441.3 L1376.7 438.9 L1381.4 436.6 L1386.2 434.1 L1391.0 432.0 L1395.7 430.1 L1400.5 428.9 L1405.2 428.3 L1410.0 427.8 L1414.8 428.1 L1419.5 428.6 L1424.3 428.4 L1429.1 428.7 L1433.8 428.4 L1438.6 428.8 L1443.3 429.5 L1448.1 431.5 L1452.9 432.8 L1457.6 434.9 L1462.4 438.3 L1467.1 440.4 L1471.9 444.7 L1476.7 448.0 L1481.4 452.1 L1486.2 455.9 L1491.0 460.3 L1495.7 464.9 L1500.5 468.3 L1505.2 472.1 L1510.0 474.9 L1514.8 478.4 L1519.5 481.5 L1524.3 484.8 L1529.1 488.7 L1533.8 492.4 L1538.6 496.4 L1543.3 499.2 L1548.1 501.6 L1552.9 503.9 L1557.6 506.1 L1562.4 508.3 L1567.2 509.6" fill="none" stroke="#143a9c" stroke-width="1.3" stroke-linejoin="round"/>
<rect x="971" y="544" width="1" height="4" fill="#2f8f0f"/>
<rect x="970" y="545" width="3" height="3" fill="#2f8f0f"/>
<rect x="976" y="534" width="1" height="9" fill="#2f8f0f"/>
<rect x="975" y="535" width="3" height="8" fill="#2f8f0f"/>
<rect x="981" y="537" width="1" height="3" fill="#2f8f0f"/>
<rect x="980" y="538" width="3" height="1" fill="#2f8f0f"/>
<rect x="986" y="532" width="1" height="5" fill="#dc0a0a"/>
<rect x="985" y="533" width="3" height="3" fill="#dc0a0a"/>
<rect x="990" y="537" width="1" height="10" fill="#dc0a0a"/>
<rect x="989" y="537" width="3" height="5" fill="#dc0a0a"/>
<rect x="995" y="534" width="1" height="5" fill="#2f8f0f"/>
<rect x="994" y="534" width="3" height="4" fill="#2f8f0f"/>
<rect x="1000" y="531" width="1" height="10" fill="#dc0a0a"/>
<rect x="999" y="532" width="3" height="9" fill="#dc0a0a"/>
<rect x="1005" y="538" width="1" height="5" fill="#2f8f0f"/>
<rect x="1004" y="538" width="3" height="4" fill="#2f8f0f"/>
<rect x="1009" y="532" width="1" height="4" fill="#2f8f0f"/>
<rect x="1008" y="532" width="3" height="2" fill="#2f8f0f"/>
<rect x="1014" y="526" width="1" height="10" fill="#2f8f0f"/>
<rect x="1013" y="526" width="3" height="10" fill="#2f8f0f"/>
<rect x="1019" y="517" width="1" height="6" fill="#2f8f0f"/>
<rect x="1018" y="518" width="3" height="5" fill="#2f8f0f"/>
<rect x="1024" y="519" width="1" height="5" fill="#dc0a0a"/>
<rect x="1023" y="519" width="3" height="5" fill="#dc0a0a"/>
<rect x="1029" y="520" width="1" height="7" fill="#2f8f0f"/>
<rect x="1028" y="520" width="3" height="3" fill="#2f8f0f"/>
<rect x="1033" y="519" width="1" height="7" fill="#dc0a0a"/>
<rect x="1032" y="519" width="3" height="3" fill="#dc0a0a"/>
<rect x="1038" y="512" width="1" height="6" fill="#2f8f0f"/>
<rect x="1037" y="512" width="3" height="6" fill="#2f8f0f"/>
<rect x="1043" y="506" width="1" height="3" fill="#dc0a0a"/>
<rect x="1042" y="506" width="3" height="3" fill="#dc0a0a"/>
<rect x="1048" y="506" width="1" height="2" fill="#dc0a0a"/>
<rect x="1047" y="506" width="3" height="2" fill="#dc0a0a"/>
<rect x="1052" y="508" width="1" height="5" fill="#dc0a0a"/>
<rect x="1051" y="508" width="3" height="3" fill="#dc0a0a"/>
<rect x="1057" y="503" width="1" height="5" fill="#dc0a0a"/>
<rect x="1056" y="505" width="3" height="3" fill="#dc0a0a"/>
<rect x="1062" y="503" width="1" height="6" fill="#2f8f0f"/>
<rect x="1061" y="503" width="3" height="6" fill="#2f8f0f"/>
<rect x="1067" y="505" width="1" height="3" fill="#2f8f0f"/>
<rect x="1066" y="505" width="3" height="3" fill="#2f8f0f"/>
<rect x="1071" y="500" width="1" height="5" fill="#2f8f0f"/>
<rect x="1070" y="502" width="3" height="2" fill="#2f8f0f"/>
<rect x="1076" y="502" width="1" height="5" fill="#2f8f0f"/>
<rect x="1075" y="503" width="3" height="4" fill="#2f8f0f"/>
<rect x="1081" y="503" width="1" height="3" fill="#2f8f0f"/>
<rect x="1080" y="503" width="3" height="3" fill="#2f8f0f"/>
<rect x="1086" y="497" width="1" height="4" fill="#2f8f0f"/>
<rect x="1085" y="497" width="3" height="3" fill="#2f8f0f"/>
<rect x="1090" y="496" width="1" height="5" fill="#2f8f0f"/>
<rect x="1089" y="496" width="3" height="3" fill="#2f8f0f"/>
<rect x="1095" y="492" width="1" height="6" fill="#dc0a0a"/>
<rect x="1094" y="494" width="3" height="1" fill="#dc0a0a"/>
<rect x="1100" y="493" width="1" height="10" fill="#dc0a0a"/>
<rect x="1099" y="496" width="3" height="3" fill="#dc0a0a"/>
<rect x="1105" y="498" width="1" height="4" fill="#dc0a0a"/>
<rect x="1104" y="498" width="3" height="3" fill="#dc0a0a"/>
<rect x="1109" y="498" width="1" height="4" fill="#dc0a0a"/>
<rect x="1108" y="498" width="3" height="2" fill="#dc0a0a"/>
<rect x="1114" y="488" width="1" height="8" fill="#2f8f0f"/>
<rect x="1113" y="488" width="3" height="8" fill="#2f8f0f"/>
<rect x="1119" y="486" width="1" height="3" fill="#2f8f0f"/>
<rect x="1118" y="487" width="3" height="2" fill="#2f8f0f"/>
<rect x="1124" y="481" width="1" height="4" fill="#2f8f0f"/>
<rect x="1123" y="481" width="3" height="4" fill="#2f8f0f"/>
<rect x="1129" y="484" width="1" height="2" fill="#dc0a0a"/>
<rect x="1128" y="484" width="3" height="2" fill="#dc0a0a"/>
<rect x="1133" y="485" width="1" height="12" fill="#dc0a0a"/>
<rect x="1132" y="485" width="3" height="10" fill="#dc0a0a"/>
<rect x="1138" y="499" width="1" height="8" fill="#2f8f0f"/>
<rect x="1137" y="499" width="3" height="6" fill="#2f8f0f"/>
<rect x="1143" y="494" width="1" height="2" fill="#2f8f0f"/>
<rect x="1142" y="494" width="3" height="2" fill="#2f8f0f"/>
<rect x="1148" y="493" width="1" height="3" fill="#dc0a0a"/>
<rect x="1147" y="493" width="3" height="2" fill="#dc0a0a"/>
<rect x="1152" y="486" width="1" height="3" fill="#2f8f0f"/>
<rect x="1151" y="486" width="3" height="3" fill="#2f8f0f"/>
<rect x="1157" y="485" width="1" height="5" fill="#dc0a0a"/>
<rect x="1156" y="486" width="3" height="4" fill="#dc0a0a"/>
<rect x="1162" y="488" width="1" height="4" fill="#dc0a0a"/>
<rect x="1161" y="489" width="3" height="2" fill="#dc0a0a"/>
<rect x="1167" y="486" width="1" height="2" fill="#2f8f0f"/>
<rect x="1166" y="486" width="3" height="2" fill="#2f8f0f"/>
<rect x="1171" y="478" width="1" height="10" fill="#2f8f0f"/>
<rect x="1170" y="480" width="3" height="8" fill="#2f8f0f"/>
<rect x="1176" y="475" width="1" height="7" fill="#2f8f0f"/>
<rect x="1175" y="478" width="3" height="3" fill="#2f8f0f"/>
<rect x="1181" y="469" width="1" height="5" fill="#2f8f0f"/>
<rect x="1180" y="470" width="3" height="4" fill="#2f8f0f"/>
<rect x="1186" y="469" width="1" height="2" fill="#dc0a0a"/>
<rect x="1185" y="469" width="3" height="1" fill="#dc0a0a"/>
<rect x="1190" y="468" width="1" height="2" fill="#dc0a0a"/>
<rect x="1189" y="468" width="3" height="2" fill="#dc0a0a"/>
<rect x="1195" y="463" width="1" height="5" fill="#2f8f0f"/>
<rect x="1194" y="463" width="3" height="5" fill="#2f8f0f"/>
<rect x="1200" y="459" width="1" height="3" fill="#2f8f0f"/>
<rect x="1199" y="459" width="3" height="3" fill="#2f8f0f"/>
<rect x="1205" y="456" width="1" height="3" fill="#dc0a0a"/>
<rect x="1204" y="457" width="3" height="1" fill="#dc0a0a"/>
<rect x="1210" y="455" width="1" height="4" fill="#dc0a0a"/>
<rect x="1209" y="457" width="3" height="1" fill="#dc0a0a"/>
<rect x="1214" y="450" width="1" height="5" fill="#2f8f0f"/>
<rect x="1213" y="450" width="3" height="5" fill="#2f8f0f"/>
<rect x="1219" y="447" width="1" height="6" fill="#dc0a0a"/>
<rect x="1218" y="447" width="3" height="5" fill="#dc0a0a"/>
<rect x="1224" y="452" width="1" height="9" fill="#dc0a0a"/>
<rect x="1223" y="452" width="3" height="6" fill="#dc0a0a"/>
<rect x="1229" y="455" width="1" height="5" fill="#2f8f0f"/>
<rect x="1228" y="455" width="3" height="5" fill="#2f8f0f"/>
<rect x="1233" y="443" width="1" height="8" fill="#2f8f0f"/>
<rect x="1232" y="443" width="3" height="5" fill="#2f8f0f"/>
<rect x="1238" y="447" width="1" height="7" fill="#2f8f0f"/>
<rect x="1237" y="450" width="3" height="4" fill="#2f8f0f"/>
<rect x="1243" y="445" width="1" height="13" fill="#2f8f0f"/>
<rect x="1242" y="445" width="3" height="13" fill="#2f8f0f"/>
<rect x="1248" y="443" width="1" height="4" fill="#dc0a0a"/>
<rect x="1247" y="444" width="3" height="2" fill="#dc0a0a"/>
<rect x="1252" y="437" width="1" height="9" fill="#2f8f0f"/>
<rect x="1251" y="439" width="3" height="7" fill="#2f8f0f"/>
<rect x="1257" y="431" width="1" height="6" fill="#2f8f0f"/>
<rect x="1256" y="432" width="3" height="1" fill="#2f8f0f"/>
<rect x="1262" y="429" width="1" height="6" fill="#dc0a0a"/>
<rect x="1261" y="429" width="3" height="6" fill="#dc0a0a"/>
<rect x="1267" y="425" width="1" height="8" fill="#2f8f0f"/>
<rect x="1266" y="425" width="3" height="7" fill="#2f8f0f"/>
<rect x="1271" y="424" width="1" height="6" fill="#dc0a0a"/>
<rect x="1270" y="426" width="3" height="2" fill="#dc0a0a"/>
<rect x="1276" y="423" width="1" height="7" fill="#2f8f0f"/>
<rect x="1275" y="427" width="3" height="1" fill="#2f8f0f"/>
<rect x="1281" y="417" width="1" height="5" fill="#2f8f0f"/>
<rect x="1280" y="417" width="3" height="5" fill="#2f8f0f"/>
<rect x="1286" y="413" width="1" height="5" fill="#dc0a0a"/>
<rect x="1285" y="414" width="3" height="1" fill="#dc0a0a"/>
<rect x="1290" y="413" width="1" height="5" fill="#2f8f0f"/>
<rect x="1289" y="416" width="3" height="1" fill="#2f8f0f"/>
<rect x="1295" y="410" width="1" height="6" fill="#dc0a0a"/>
<rect x="1294" y="413" width="3" height="2" fill="#dc0a0a"/>
<rect x="1300" y="412" width="1" height="6" fill="#2f8f0f"/>
<rect x="1299" y="412" width="3" height="3" fill="#2f8f0f"/>
<rect x="1305" y="409" width="1" height="17" fill="#dc0a0a"/>
<rect x="1304" y="409" width="3" height="13" fill="#dc0a0a"/>
<rect x="1310" y="435" width="1" height="9" fill="#2f8f0f"/>
<rect x="1309" y="438" width="3" height="6" fill="#2f8f0f"/>
<rect x="1314" y="424" width="1" height="10" fill="#2f8f0f"/>
<rect x="1313" y="426" width="3" height="8" fill="#2f8f0f"/>
<rect x="1319" y="421" width="1" height="7" fill="#dc0a0a"/>
<rect x="1318" y="422" width="3" height="4" fill="#dc0a0a"/>
<rect x="1324" y="422" width="1" height="12" fill="#2f8f0f"/>
<rect x="1323" y="423" width="3" height="8" fill="#2f8f0f"/>
<rect x="1329" y="422" width="1" height="19" fill="#dc0a0a"/>
<rect x="1328" y="422" width="3" height="16" fill="#dc0a0a"/>
<rect x="1333" y="424" width="1" height="11" fill="#2f8f0f"/>
<rect x="1332" y="425" width="3" height="10" fill="#2f8f0f"/>
<rect x="1338" y="405" width="1" height="10" fill="#2f8f0f"/>
<rect x="1337" y="406" width="3" height="8" fill="#2f8f0f"/>
<rect x="1343" y="396" width="1" height="11" fill="#dc0a0a"/>
<rect x="1342" y="396" width="3" height="7" fill="#dc0a0a"/>
<rect x="1348" y="396" width="1" height="5" fill="#2f8f0f"/>
<rect x="1347" y="396" width="3" height="3" fill="#2f8f0f"/>
<rect x="1352" y="397" width="1" height="6" fill="#dc0a0a"/>
<rect x="1351" y="400" width="3" height="2" fill="#dc0a0a"/>
<rect x="1357" y="390" width="1" height="15" fill="#2f8f0f"/>
<rect x="1356" y="390" width="3" height="15" fill="#2f8f0f"/>
<rect x="1362" y="383" width="1" height="10" fill="#dc0a0a"/>
<rect x="1361" y="386" width="3" height="4" fill="#dc0a0a"/>
<rect x="1367" y="381" width="1" height="6" fill="#2f8f0f"/>
<rect x="1366" y="381" width="3" height="5" fill="#2f8f0f"/>
<rect x="1371" y="379" width="1" height="10" fill="#2f8f0f"/>
<rect x="1370" y="382" width="3" height="7" fill="#2f8f0f"/>
<rect x="1376" y="379" width="1" height="5" fill="#2f8f0f"/>
<rect x="1375" y="380" width="3" height="2" fill="#2f8f0f"/>
<rect x="1381" y="379" width="1" height="7" fill="#2f8f0f"/>
<rect x="1380" y="380" width="3" height="6" fill="#2f8f0f"/>
<rect x="1386" y="370" width="1" height="7" fill="#2f8f0f"/>
<rect x="1385" y="372" width="3" height="4" fill="#2f8f0f"/>
<rect x="1390" y="372" width="1" height="19" fill="#dc0a0a"/>
<rect x="1389" y="374" width="3" height="5" fill="#dc0a0a"/>
<rect x="1395" y="382" width="1" height="18" fill="#dc0a0a"/>
<rect x="1394" y="383" width="3" height="13" fill="#dc0a0a"/>
<rect x="1400" y="420" width="1" height="17" fill="#2f8f0f"/>
<rect x="1399" y="430" width="3" height="4" fill="#2f8f0f"/>
<rect x="1405" y="421" width="1" height="38" fill="#dc0a0a"/>
<rect x="1404" y="422" width="3" height="34" fill="#dc0a0a"/>
<rect x="1410" y="437" width="1" height="23" fill="#dc0a0a"/>
<rect x="1409" y="451" width="3" height="4" fill="#dc0a0a"/>
<rect x="1414" y="461" width="1" height="35" fill="#dc0a0a"/>
<rect x="1413" y="477" width="3" height="19" fill="#dc0a0a"/>
<rect x="1419" y="492" width="1" height="33" fill="#2f8f0f"/>
<rect x="1418" y="494" width="3" height="31" fill="#2f8f0f"/>
<rect x="1424" y="457" width="1" height="41" fill="#2f8f0f"/>
<rect x="1423" y="457" width="3" height="29" fill="#2f8f0f"/>
<rect x="1429" y="445" width="1" height="47" fill="#dc0a0a"/>
<rect x="1428" y="455" width="3" height="29" fill="#dc0a0a"/>
<rect x="1433" y="450" width="1" height="27" fill="#2f8f0f"/>
<rect x="1432" y="450" width="3" height="19" fill="#2f8f0f"/>
<rect x="1438" y="460" width="1" height="25" fill="#dc0a0a"/>
<rect x="1437" y="473" width="3" height="6" fill="#dc0a0a"/>
<rect x="1443" y="490" width="1" height="24" fill="#2f8f0f"/>
<rect x="1442" y="494" width="3" height="11" fill="#2f8f0f"/>
<rect x="1448" y="526" width="1" height="31" fill="#dc0a0a"/>
<rect x="1447" y="554" width="3" height="2" fill="#dc0a0a"/>
<rect x="1452" y="516" width="1" height="42" fill="#2f8f0f"/>
<rect x="1451" y="516" width="3" height="14" fill="#2f8f0f"/>
<rect x="1457" y="532" width="1" height="34" fill="#dc0a0a"/>
<rect x="1456" y="537" width="3" height="19" fill="#dc0a0a"/>
<rect x="1462" y="578" width="1" height="52" fill="#dc0a0a"/>
<rect x="1461" y="609" width="3" height="20" fill="#dc0a0a"/>
<rect x="1467" y="562" width="1" height="66" fill="#2f8f0f"/>
<rect x="1466" y="562" width="3" height="27" fill="#2f8f0f"/>
<rect x="1471" y="607" width="1" height="54" fill="#dc0a0a"/>
<rect x="1470" y="610" width="3" height="49" fill="#dc0a0a"/>
<rect x="1476" y="608" width="1" height="58" fill="#2f8f0f"/>
<rect x="1475" y="615" width="3" height="27" fill="#2f8f0f"/>
<rect x="1481" y="630" width="1" height="50" fill="#2f8f0f"/>
<rect x="1480" y="649" width="3" height="10" fill="#2f8f0f"/>
<rect x="1486" y="622" width="1" height="41" fill="#2f8f0f"/>
<rect x="1485" y="633" width="3" height="17" fill="#2f8f0f"/>
<rect x="1490" y="613" width="1" height="50" fill="#dc0a0a"/>
<rect x="1489" y="626" width="3" height="35" fill="#dc0a0a"/>
<rect x="1495" y="650" width="1" height="35" fill="#2f8f0f"/>
<rect x="1494" y="662" width="3" height="2" fill="#2f8f0f"/>
<rect x="1500" y="607" width="1" height="26" fill="#2f8f0f"/>
<rect x="1499" y="607" width="3" height="23" fill="#2f8f0f"/>
<rect x="1505" y="582" width="1" height="37" fill="#dc0a0a"/>
<rect x="1504" y="606" width="3" height="5" fill="#dc0a0a"/>
<rect x="1510" y="569" width="1" height="35" fill="#2f8f0f"/>
<rect x="1509" y="570" width="3" height="34" fill="#2f8f0f"/>
<rect x="1514" y="578" width="1" height="24" fill="#dc0a0a"/>
<rect x="1513" y="591" width="3" height="9" fill="#dc0a0a"/>
<rect x="1519" y="571" width="1" height="25" fill="#2f8f0f"/>
<rect x="1518" y="572" width="3" height="20" fill="#2f8f0f"/>
<rect x="1524" y="562" width="1" height="24" fill="#dc0a0a"/>
<rect x="1523" y="571" width="3" height="10" fill="#dc0a0a"/>
<rect x="1529" y="593" width="1" height="27" fill="#dc0a0a"/>
<rect x="1528" y="603" width="3" height="11" fill="#dc0a0a"/>
<rect x="1533" y="599" width="1" height="20" fill="#2f8f0f"/>
<rect x="1532" y="600" width="3" height="18" fill="#2f8f0f"/>
<rect x="1538" y="597" width="1" height="24" fill="#dc0a0a"/>
<rect x="1537" y="601" width="3" height="12" fill="#dc0a0a"/>
<rect x="1543" y="556" width="1" height="31" fill="#2f8f0f"/>
<rect x="1542" y="559" width="3" height="27" fill="#2f8f0f"/>
<rect x="1548" y="536" width="1" height="27" fill="#dc0a0a"/>
<rect x="1547" y="539" width="3" height="23" fill="#dc0a0a"/>
<rect x="1552" y="539" width="1" height="24" fill="#2f8f0f"/>
<rect x="1551" y="541" width="3" height="15" fill="#2f8f0f"/>
<rect x="1557" y="528" width="1" height="16" fill="#dc0a0a"/>
<rect x="1556" y="531" width="3" height="5" fill="#dc0a0a"/>
<rect x="1562" y="530" width="1" height="16" fill="#2f8f0f"/>
<rect x="1561" y="531" width="3" height="7" fill="#2f8f0f"/>
<rect x="1567" y="498" width="1" height="20" fill="#2f8f0f"/>
<rect x="1566" y="499" width="3" height="19" fill="#2f8f0f"/>
<path d="M971.9 557.6 L976.7 555.2 L981.4 551.9 L986.2 549.1 L990.9 548.1 L995.7 546.0 L1000.5 543.3 L1005.2 541.2 L1010.0 538.8 L1014.8 537.0 L1019.5 534.3 L1024.3 533.0 L1029.0 531.3 L1033.8 530.0 L1038.6 527.0 L1043.3 524.4 L1048.1 521.1 L1052.9 518.3 L1057.6 515.9 L1062.4 513.6 L1067.1 512.2 L1071.9 510.2 L1076.7 508.4 L1081.4 506.6 L1086.2 505.1 L1091.0 503.9 L1095.7 502.6 L1100.5 501.5 L1105.2 500.8 L1110.0 500.3 L1114.8 498.7 L1119.5 497.1 L1124.3 494.9 L1129.0 493.1 L1133.8 492.8 L1138.6 493.1 L1143.3 493.1 L1148.1 492.7 L1152.9 491.2 L1157.6 490.2 L1162.4 490.4 L1167.1 490.3 L1171.9 490.2 L1176.7 489.5 L1181.4 487.1 L1186.2 484.1 L1191.0 481.6 L1195.7 478.5 L1200.5 475.8 L1205.2 472.7 L1210.0 469.4 L1214.8 465.7 L1219.5 462.9 L1224.3 460.8 L1229.0 459.3 L1233.8 456.6 L1238.6 454.7 L1243.3 452.9 L1248.1 451.5 L1252.9 449.7 L1257.6 447.3 L1262.4 445.7 L1267.1 443.1 L1271.9 440.1 L1276.7 437.3 L1281.4 434.7 L1286.2 431.1 L1291.0 428.2 L1295.7 425.1 L1300.5 422.4 L1305.2 421.3 L1310.0 421.7 L1314.8 421.7 L1319.5 421.5 L1324.3 421.1 L1329.0 423.1 L1333.8 424.3 L1338.6 423.3 L1343.3 422.1 L1348.1 420.4 L1352.9 418.4 L1357.6 413.6 L1362.4 410.0 L1367.1 405.6 L1371.9 401.5 L1376.7 395.8 L1381.4 391.3 L1386.2 387.9 L1391.0 385.5 L1395.7 385.5 L1400.5 388.4 L1405.2 394.9 L1410.0 401.3 L1414.8 412.7 L1419.5 424.0 L1424.3 431.6 L1429.1 441.9 L1433.8 449.7 L1438.6 459.7 L1443.3 469.5 L1448.1 481.9 L1452.9 488.0 L1457.6 498.1 L1462.4 511.5 L1467.1 518.3 L1471.9 538.4 L1476.7 551.6 L1481.4 571.5 L1486.2 587.1 L1491.0 603.7 L1495.7 614.4 L1500.5 623.5 L1505.2 629.1 L1510.0 623.2 L1514.8 626.9 L1519.5 618.4 L1524.3 614.8 L1529.1 611.2 L1533.8 607.8 L1538.6 603.0 L1543.3 592.7 L1548.1 588.1 L1552.9 581.1 L1557.6 577.7 L1562.4 570.9 L1567.2 563.6" fill="none" stroke="#3a9c10" stroke-width="1.2" stroke-linejoin="round"/></g>
<rect x="968" y="792" width="842" height="1" fill="#7800b4"/>
<rect x="970" y="791" width="1" height="1" fill="#0c5a0c"/>
<rect x="975" y="789" width="1" height="3" fill="#0cf50c"/>
<rect x="980" y="788" width="1" height="4" fill="#0cf50c"/>
<rect x="985" y="787" width="1" height="5" fill="#0cf50c"/>
<rect x="989" y="787" width="1" height="5" fill="#0c5a0c"/>
<rect x="994" y="787" width="1" height="5" fill="#0cf50c"/>
<rect x="999" y="788" width="1" height="4" fill="#0c5a0c"/>
<rect x="1004" y="789" width="1" height="3" fill="#0c5a0c"/>
<rect x="1008" y="788" width="1" height="4" fill="#0cf50c"/>
<rect x="1013" y="788" width="1" height="4" fill="#0cf50c"/>
<rect x="1018" y="786" width="1" height="6" fill="#0cf50c"/>
<rect x="1023" y="787" width="1" height="5" fill="#0c5a0c"/>
<rect x="1028" y="787" width="1" height="5" fill="#0c5a0c"/>
<rect x="1032" y="787" width="1" height="5" fill="#0c5a0c"/>
<rect x="1037" y="787" width="1" height="5" fill="#0cf50c"/>
<rect x="1042" y="786" width="1" height="6" fill="#0cf50c"/>
<rect x="1047" y="786" width="1" height="6" fill="#0c5a0c"/>
<rect x="1051" y="787" width="1" height="5" fill="#0c5a0c"/>
<rect x="1056" y="788" width="1" height="4" fill="#0c5a0c"/>
<rect x="1061" y="788" width="1" height="4" fill="#0c5a0c"/>
<rect x="1066" y="789" width="1" height="3" fill="#0c5a0c"/>
<rect x="1070" y="789" width="1" height="3" fill="#0c5a0c"/>
<rect x="1075" y="790" width="1" height="2" fill="#0c5a0c"/>
<rect x="1080" y="791" width="1" height="1" fill="#0c5a0c"/>
<rect x="1085" y="790" width="1" height="2" fill="#0cf50c"/>
<rect x="1089" y="791" width="1" height="1" fill="#0c5a0c"/>
<rect x="1094" y="791" width="1" height="1" fill="#0c5a0c"/>
<rect x="1123" y="791" width="1" height="1" fill="#0cf50c"/>
<rect x="1128" y="791" width="1" height="1" fill="#0c5a0c"/>
<rect x="1137" y="793" width="1" height="2" fill="#e40808"/>
<rect x="1142" y="793" width="1" height="2" fill="#e40808"/>
<rect x="1147" y="793" width="1" height="2" fill="#e40808"/>
<rect x="1151" y="793" width="1" height="2" fill="#800808"/>
<rect x="1156" y="793" width="1" height="2" fill="#800808"/>
<rect x="1161" y="793" width="1" height="2" fill="#e40808"/>
<rect x="1166" y="793" width="1" height="1" fill="#800808"/>
<rect x="1180" y="791" width="1" height="1" fill="#0cf50c"/>
<rect x="1185" y="790" width="1" height="2" fill="#0cf50c"/>
<rect x="1189" y="790" width="1" height="2" fill="#0cf50c"/>
<rect x="1194" y="789" width="1" height="3" fill="#0cf50c"/>
<rect x="1199" y="789" width="1" height="3" fill="#0cf50c"/>
<rect x="1204" y="788" width="1" height="4" fill="#0cf50c"/>
<rect x="1209" y="789" width="1" height="3" fill="#0c5a0c"/>
<rect x="1213" y="788" width="1" height="4" fill="#0cf50c"/>
<rect x="1218" y="788" width="1" height="4" fill="#0c5a0c"/>
<rect x="1223" y="790" width="1" height="2" fill="#0c5a0c"/>
<rect x="1228" y="791" width="1" height="1" fill="#0c5a0c"/>
<rect x="1232" y="790" width="1" height="2" fill="#0cf50c"/>
<rect x="1237" y="791" width="1" height="1" fill="#0c5a0c"/>
<rect x="1242" y="791" width="1" height="1" fill="#0c5a0c"/>
<rect x="1247" y="791" width="1" height="1" fill="#0c5a0c"/>
<rect x="1251" y="791" width="1" height="1" fill="#0cf50c"/>
<rect x="1256" y="790" width="1" height="2" fill="#0cf50c"/>
<rect x="1261" y="790" width="1" height="2" fill="#0c5a0c"/>
<rect x="1266" y="790" width="1" height="2" fill="#0cf50c"/>
<rect x="1270" y="790" width="1" height="2" fill="#0c5a0c"/>
<rect x="1275" y="790" width="1" height="2" fill="#0c5a0c"/>
<rect x="1280" y="789" width="1" height="3" fill="#0cf50c"/>
<rect x="1285" y="789" width="1" height="3" fill="#0cf50c"/>
<rect x="1289" y="789" width="1" height="3" fill="#0c5a0c"/>
<rect x="1294" y="790" width="1" height="2" fill="#0c5a0c"/>
<rect x="1299" y="790" width="1" height="2" fill="#0c5a0c"/>
<rect x="1309" y="793" width="1" height="3" fill="#e40808"/>
<rect x="1313" y="793" width="1" height="4" fill="#e40808"/>
<rect x="1318" y="793" width="1" height="4" fill="#e40808"/>
<rect x="1323" y="793" width="1" height="4" fill="#800808"/>
<rect x="1328" y="793" width="1" height="6" fill="#e40808"/>
<rect x="1332" y="793" width="1" height="5" fill="#800808"/>
<rect x="1337" y="793" width="1" height="2" fill="#800808"/>
<rect x="1347" y="791" width="1" height="1" fill="#0cf50c"/>
<rect x="1351" y="790" width="1" height="2" fill="#0cf50c"/>
<rect x="1356" y="789" width="1" height="3" fill="#0cf50c"/>
<rect x="1361" y="789" width="1" height="3" fill="#0cf50c"/>
<rect x="1366" y="787" width="1" height="5" fill="#0cf50c"/>
<rect x="1370" y="787" width="1" height="5" fill="#0cf50c"/>
<rect x="1375" y="788" width="1" height="4" fill="#0c5a0c"/>
<rect x="1380" y="788" width="1" height="4" fill="#0c5a0c"/>
<rect x="1385" y="788" width="1" height="4" fill="#0cf50c"/>
<rect x="1389" y="789" width="1" height="3" fill="#0c5a0c"/>
<rect x="1399" y="793" width="1" height="7" fill="#e40808"/>
<rect x="1404" y="793" width="1" height="14" fill="#e40808"/>
<rect x="1409" y="793" width="1" height="18" fill="#e40808"/>
<rect x="1413" y="793" width="1" height="25" fill="#e40808"/>
<rect x="1418" y="793" width="1" height="28" fill="#e40808"/>
<rect x="1423" y="793" width="1" height="24" fill="#800808"/>
<rect x="1428" y="793" width="1" height="23" fill="#800808"/>
<rect x="1432" y="793" width="1" height="17" fill="#800808"/>
<rect x="1437" y="793" width="1" height="16" fill="#800808"/>
<rect x="1442" y="793" width="1" height="16" fill="#e40808"/>
<rect x="1447" y="793" width="1" height="24" fill="#e40808"/>
<rect x="1451" y="793" width="1" height="22" fill="#800808"/>
<rect x="1456" y="793" width="1" height="24" fill="#e40808"/>
<rect x="1461" y="793" width="1" height="33" fill="#e40808"/>
<rect x="1466" y="793" width="1" height="28" fill="#800808"/>
<rect x="1470" y="793" width="1" height="36" fill="#e40808"/>
<rect x="1475" y="793" width="1" height="33" fill="#800808"/>
<rect x="1480" y="793" width="1" height="32" fill="#800808"/>
<rect x="1485" y="793" width="1" height="28" fill="#800808"/>
<rect x="1489" y="793" width="1" height="26" fill="#800808"/>
<rect x="1494" y="793" width="1" height="23" fill="#800808"/>
<rect x="1499" y="793" width="1" height="12" fill="#800808"/>
<rect x="1504" y="793" width="1" height="4" fill="#800808"/>
<rect x="1509" y="785" width="1" height="7" fill="#0cf50c"/>
<rect x="1513" y="781" width="1" height="11" fill="#0cf50c"/>
<rect x="1518" y="775" width="1" height="17" fill="#0cf50c"/>
<rect x="1523" y="772" width="1" height="20" fill="#0cf50c"/>
<rect x="1528" y="774" width="1" height="18" fill="#0c5a0c"/>
<rect x="1532" y="775" width="1" height="17" fill="#0c5a0c"/>
<rect x="1537" y="776" width="1" height="16" fill="#0c5a0c"/>
<rect x="1542" y="771" width="1" height="21" fill="#0cf50c"/>
<rect x="1547" y="768" width="1" height="24" fill="#0cf50c"/>
<rect x="1551" y="764" width="1" height="28" fill="#0cf50c"/>
<rect x="1556" y="762" width="1" height="30" fill="#0cf50c"/>
<rect x="1561" y="761" width="1" height="31" fill="#0cf50c"/>
<rect x="1566" y="758" width="1" height="34" fill="#0cf50c"/>
<path d="M971.9 797.6 L976.7 796.7 L981.4 795.6 L986.2 794.3 L990.9 793.1 L995.7 791.9 L1000.5 790.9 L1005.2 790.0 L1010.0 789.0 L1014.8 787.9 L1019.5 786.5 L1024.3 785.1 L1029.0 783.7 L1033.8 782.5 L1038.6 781.2 L1043.3 779.7 L1048.1 778.3 L1052.9 777.1 L1057.6 776.0 L1062.4 774.9 L1067.1 774.0 L1071.9 773.3 L1076.7 772.7 L1081.4 772.3 L1086.2 771.9 L1091.0 771.6 L1095.7 771.2 L1100.5 771.1 L1105.2 771.2 L1110.0 771.5 L1114.8 771.6 L1119.5 771.5 L1124.3 771.2 L1129.0 770.9 L1133.8 771.1 L1138.6 771.7 L1143.3 772.4 L1148.1 773.2 L1152.9 773.9 L1157.6 774.5 L1162.4 775.1 L1167.1 775.6 L1171.9 775.9 L1176.7 775.9 L1181.4 775.6 L1186.2 775.2 L1191.0 774.6 L1195.7 773.9 L1200.5 773.0 L1205.2 772.1 L1210.0 771.2 L1214.8 770.2 L1219.5 769.3 L1224.3 768.7 L1229.0 768.4 L1233.8 767.8 L1238.6 767.5 L1243.3 767.2 L1248.1 767.0 L1252.9 766.8 L1257.6 766.3 L1262.4 765.9 L1267.1 765.3 L1271.9 764.7 L1276.7 764.2 L1281.4 763.6 L1286.2 762.8 L1291.0 762.1 L1295.7 761.6 L1300.5 761.2 L1305.2 761.2 L1310.0 762.1 L1314.8 763.3 L1319.5 764.5 L1324.3 765.7 L1329.0 767.4 L1333.8 768.9 L1338.6 769.7 L1343.3 769.9 L1348.1 769.6 L1352.9 769.2 L1357.6 768.5 L1362.4 767.6 L1367.1 766.4 L1371.9 765.2 L1376.7 764.1 L1381.4 763.1 L1386.2 762.1 L1391.0 761.4 L1395.7 761.5 L1400.5 763.4 L1405.2 767.2 L1410.0 772.0 L1414.8 778.6 L1419.5 785.9 L1424.3 792.1 L1429.1 798.2 L1433.8 802.8 L1438.6 807.0 L1443.3 811.3 L1448.1 817.5 L1452.9 823.1 L1457.6 829.3 L1462.4 837.8 L1467.1 845.2 L1471.9 854.4 L1476.7 862.7 L1481.4 871.1 L1486.2 878.3 L1491.0 885.1 L1495.7 891.1 L1500.5 894.3 L1505.2 895.4 L1510.0 893.6 L1514.8 890.8 L1519.5 886.4 L1524.3 881.3 L1529.1 876.9 L1533.8 872.5 L1538.6 868.6 L1543.3 863.3 L1548.1 857.2 L1552.9 850.3 L1557.6 842.8 L1562.4 835.1 L1567.2 826.5" fill="none" stroke="#b02c2c" stroke-width="1.15" stroke-linejoin="round"/>
<path d="M971.9 796.2 L976.7 793.2 L981.4 791.1 L986.2 789.0 L990.9 788.5 L995.7 787.0 L1000.5 786.8 L1005.2 786.4 L1010.0 785.2 L1014.8 783.4 L1019.5 780.7 L1024.3 779.5 L1029.0 778.3 L1033.8 777.7 L1038.6 775.9 L1043.3 773.9 L1048.1 772.5 L1052.9 772.1 L1057.6 771.6 L1062.4 770.8 L1067.1 770.5 L1071.9 770.3 L1076.7 770.4 L1081.4 770.8 L1086.2 770.3 L1091.0 770.1 L1095.7 769.8 L1100.5 770.6 L1105.2 771.7 L1110.0 772.7 L1114.8 771.8 L1119.5 771.1 L1124.3 769.9 L1129.0 769.9 L1133.8 771.6 L1138.6 774.1 L1143.3 775.4 L1148.1 776.6 L1152.9 776.3 L1157.6 776.9 L1162.4 777.6 L1167.1 777.7 L1171.9 776.9 L1176.7 776.2 L1181.4 774.5 L1186.2 773.3 L1191.0 772.4 L1195.7 771.1 L1200.5 769.6 L1205.2 768.4 L1210.0 767.6 L1214.8 766.2 L1219.5 765.6 L1224.3 766.4 L1229.0 766.9 L1233.8 765.7 L1238.6 766.2 L1243.3 766.1 L1248.1 766.3 L1252.9 765.8 L1257.6 764.5 L1262.4 764.2 L1267.1 762.8 L1271.9 762.4 L1276.7 762.3 L1281.4 760.9 L1286.2 759.7 L1291.0 759.5 L1295.7 759.4 L1300.5 759.5 L1305.2 761.3 L1310.0 765.9 L1314.8 767.8 L1319.5 769.4 L1324.3 770.5 L1329.0 774.1 L1333.8 775.1 L1338.6 772.9 L1343.3 770.8 L1348.1 768.3 L1352.9 767.5 L1357.6 765.5 L1362.4 764.0 L1367.1 761.7 L1371.9 760.5 L1376.7 759.6 L1381.4 759.3 L1386.2 758.0 L1391.0 758.5 L1395.7 762.1 L1400.5 771.0 L1405.2 782.4 L1410.0 791.2 L1414.8 804.8 L1419.5 815.3 L1424.3 817.0 L1429.1 822.5 L1433.8 821.0 L1438.6 824.0 L1443.3 828.6 L1448.1 842.0 L1452.9 845.5 L1457.6 854.0 L1462.4 872.2 L1467.1 874.5 L1471.9 891.2 L1476.7 896.2 L1481.4 904.4 L1486.2 907.1 L1491.0 912.2 L1495.7 915.2 L1500.5 907.1 L1505.2 900.0 L1510.0 886.5 L1514.8 879.6 L1519.5 868.9 L1524.3 860.8 L1529.1 859.1 L1533.8 855.1 L1538.6 853.0 L1543.3 841.9 L1548.1 833.1 L1552.9 822.5 L1557.6 812.8 L1562.4 804.3 L1567.2 792.3" fill="none" stroke="#383838" stroke-width="1.15" stroke-linejoin="round"/></svg>
<div style="left:967px;top:727px;width:262px;height:25px;background:#f7f7f7;border:1px solid #cfcfcf;box-sizing:border-box"></div>
<div class="t " style="left:971.5px;top:731.82px;font-size:14.4px;color:#333;letter-spacing:0.215px">MACD (12, 26, 9, EXPONENTIAL, no)</div>
<div style="left:1228px;top:727px;width:62.5px;height:25px;background:#f7f7f7;border:1px solid #cfcfcf;box-sizing:border-box"></div>
<div class="t " style="left:1232.5px;top:731.82px;font-size:14.4px;color:#333;">1.36452</div>
<div style="left:1289.5px;top:727px;width:67px;height:25px;background:#f7f7f7;border:1px solid #cfcfcf;box-sizing:border-box"></div>
<div class="t " style="left:1294px;top:731.82px;font-size:14.4px;color:#a52a2a;">-167.195</div>
<div style="left:1355.5px;top:727px;width:54px;height:25px;background:#f7f7f7;border:1px solid #cfcfcf;box-sizing:border-box"></div>
<div class="t " style="left:1360px;top:731.82px;font-size:14.4px;color:#1fe01f;">168.56</div>
<div style="left:1408.5px;top:727px;width:18px;height:25px;background:#f7f7f7;border:1px solid #cfcfcf;box-sizing:border-box"></div>
<div class="t " style="left:1413px;top:731.82px;font-size:14.4px;color:#7a10b8;">0</div>
<div style="left:1425.5px;top:727px;width:385.5px;height:25px;background:#f7f7f7;border:1px solid #cfcfcf;box-sizing:border-box"></div>
<div class="t" style="left:1813.4px;top:491px;width:58.3px;height:16.6px;background:#333;border-radius:3px;color:#fff;font-size:14.67px;line-height:17.1px;text-align:center">8515.74</div>
<div class="t" style="left:1813.4px;top:554.3px;width:58.3px;height:16.6px;background:#2d9a12;border-radius:3px;color:#fff;font-size:14.67px;line-height:17.1px;text-align:center">7867.42</div>
<div class="t" style="left:1813.2px;top:781.8px;width:58.5px;height:16.8px;background:#2b2b2b;border-radius:3px;color:#fff;font-size:14.67px;line-height:17.3px;text-align:center">1.36452</div>
<div class="t" style="left:1813.2px;top:816.5px;width:47.5px;height:17px;background:#b03030;border-radius:3px;color:#fff;font-size:14.67px;line-height:17.5px;text-align:center">-167.2</div>
<div style="left:1811px;top:33px;width:77px;height:24px;background:#f9f9f9;"></div>
<svg style="left:1810px;top:30px" width="32" height="30"><path d="M6.7 6.4 L12.5 11.6" stroke="#222" stroke-width="1.5"/><path d="M13.9 6.7 V12.7 H7z" fill="#222"/><path d="M6.4 18.6 Q10 23.5 13.8 19.5 Q16.5 16.5 19 13.5 Q23 9 26.1 14.6" fill="none" stroke="#222" stroke-width="1.5"/><path d="M18.9 19.3 H26.5 L18.9 25.2z" fill="#222"/><path d="M21.5 21.5 L26.5 26" stroke="#222" stroke-width="1.6"/></svg>
<div style="left:965px;top:942px;width:923px;height:27.8px;background:#fdfdfd;"></div>
<div style="left:965px;top:947.2px;width:590px;height:17.6px;background:#ebebeb;"></div>
<div style="left:965px;top:947.2px;width:18.5px;height:17.6px;background:#e4e4e4;"></div>
<div style="left:1555px;top:947.2px;width:36px;height:17.6px;background:#e2e2e2;"></div>
<svg style="left:960px;top:940px" width="960" height="30"><path d="M10.5 15.7 l4.5 -3.6 v7.2z" fill="#555"/><path d="M601 16.5 l4.5 -3.5 v7z M620 13 l4.5 3.5 -4.5 3.5z" fill="#555"/><path d="M634.5 16.2 l6.5-5 v10z M654.5 16.2 l-6.5-5 v10z" fill="#222"/><path d="M643 12.2 v8 M646 12.2 v8" stroke="#222" stroke-width="1.4"/><circle cx="670.3" cy="16.8" r="7" fill="none" stroke="#222" stroke-width="1.5"/><path d="M670.3 8 v18 M661.7 16.8 h17.4" stroke="#222" stroke-width="1.4"/><circle cx="697.5" cy="14.5" r="7.2" fill="none" stroke="#222" stroke-width="1.6"/><path d="M702.8 19.8 l6.2 6.2" stroke="#222" stroke-width="2.4"/><path d="M693.5 14.5 h8 M697.5 10.5 v8" stroke="#222" stroke-width="1.5"/><circle cx="724.5" cy="14.5" r="7.2" fill="none" stroke="#aaa" stroke-width="1.6"/><path d="M729.8 19.8 l6.2 6.2" stroke="#aaa" stroke-width="2.4"/><path d="M720.5 14.5 h8" stroke="#aaa" stroke-width="1.5"/></svg>
<svg style="left:1702.5px;top:944.5px" width="22" height="24" viewBox="0 0 24 26"><path d="M8.3 13.5 V4.2 q0-1.7 1.6-1.7 q1.6 0 1.6 1.7 V10 q0.2-1.3 1.6-1.1 q1.3 0.2 1.4 1.5 V11.4 q0.3-1.2 1.6-1 q1.2 0.2 1.3 1.4 V12.6 q0.4-1 1.5-0.8 q1.1 0.3 1.1 1.5 V17.5 q0 2.2-1 3.6 q-0.5 0.7-0.5 2 H9.6 q0-1.2-1-2.2 L4.8 16.8 q-1-1.2-0.1-2.2 q1-0.9 2.1 0.1 z" fill="none" stroke="#222" stroke-width="1.5" stroke-linejoin="round"/></svg>
<div class="t " style="left:1743.3px;top:948.8px;font-size:14.63px;color:#2c2c2c;">Drawing set: Default</div>
<svg style="left:1880px;top:960.5px" width="5" height="5" viewBox="0 0 5 5"><path d="M5 0 V5 H0z" fill="#222"/></svg>
<div style="left:1888.2px;top:34px;width:28px;height:936px;background:#b5b5b5;"></div>
<div style="left:1915.7px;top:34px;width:1.5px;height:936px;background:#a2a2a2;"></div>
<div style="left:1888.2px;top:34px;width:1px;height:936px;background:#9c9c9c;"></div>
<div style="left:1888.2px;top:99px;width:28px;height:1px;background:#a0a0a0;"></div>
<div style="left:1888.2px;top:100px;width:28px;height:1px;background:#c6c6c6;"></div>
<div style="left:1888.2px;top:238.5px;width:28px;height:1px;background:#a0a0a0;"></div>
<div style="left:1888.2px;top:239.5px;width:28px;height:1px;background:#c6c6c6;"></div>
<div style="left:1888.2px;top:354.5px;width:28px;height:1px;background:#a0a0a0;"></div>
<div style="left:1888.2px;top:355.5px;width:28px;height:1px;background:#c6c6c6;"></div>
<div style="left:1888.2px;top:459px;width:28px;height:1px;background:#a0a0a0;"></div>
<div style="left:1888.2px;top:460px;width:28px;height:1px;background:#c6c6c6;"></div>
<div style="left:1889.2px;top:460px;width:26.5px;height:63px;background:#f6f6f6;"></div>
<div style="left:1888.2px;top:522px;width:28px;height:1px;background:#a0a0a0;"></div>
<div style="left:1888.2px;top:523px;width:28px;height:1px;background:#c6c6c6;"></div>
<div style="left:1888.2px;top:643.5px;width:28px;height:1px;background:#a0a0a0;"></div>
<div style="left:1888.2px;top:644.5px;width:28px;height:1px;background:#c6c6c6;"></div>
<div style="left:1888.2px;top:742.5px;width:28px;height:1px;background:#a0a0a0;"></div>
<div style="left:1888.2px;top:743.5px;width:28px;height:1px;background:#c6c6c6;"></div>
<div style="left:1888.2px;top:817px;width:28px;height:1px;background:#a0a0a0;"></div>
<div style="left:1888.2px;top:818px;width:28px;height:1px;background:#c6c6c6;"></div>
<div style="left:1888.2px;top:914.5px;width:28px;height:1px;background:#a0a0a0;"></div>
<div style="left:1888.2px;top:915.5px;width:28px;height:1px;background:#c6c6c6;"></div>
<svg style="left:0;top:0" width="1920" height="972" font-family="Liberation Sans" font-size="14.8px" fill="#2e2e2e"><text transform="translate(1909 91.4) rotate(-90)" textLength="37" lengthAdjust="spacingAndGlyphs">Trade</text><text transform="translate(1909 230.9) rotate(-90)" textLength="110.5" lengthAdjust="spacingAndGlyphs">Times And Sales</text><text transform="translate(1909 346.9) rotate(-90)" textLength="87" lengthAdjust="spacingAndGlyphs">Active Trader</text><text transform="translate(1909 451.4) rotate(-90)" textLength="75.5" lengthAdjust="spacingAndGlyphs">Big Buttons</text><text transform="translate(1909 514.4) rotate(-90)" textLength="34" lengthAdjust="spacingAndGlyphs">Chart</text><text transform="translate(1909 635.9) rotate(-90)" textLength="92.5" lengthAdjust="spacingAndGlyphs">Phase Scores</text><text transform="translate(1909 734.9) rotate(-90)" textLength="70" lengthAdjust="spacingAndGlyphs">Dashboard</text><text transform="translate(1909 809.4) rotate(-90)" textLength="45.5" lengthAdjust="spacingAndGlyphs">Level II</text><text transform="translate(1909 906.9) rotate(-90)" textLength="68.5" lengthAdjust="spacingAndGlyphs">Live News</text></svg>
<svg style="left:0;top:0" width="1920" height="972"><path d="M347.8 428.2 L425.4 386.5" stroke="#99d9ea" stroke-width="5.5" stroke-linecap="round"/>
<path d="M467 421 L529.5 571" stroke="#99d9ea" stroke-width="5.5" stroke-linecap="round"/>
<path d="M1321 451.8 L1392 403.8" stroke="#99d9ea" stroke-width="5.5" stroke-linecap="round"/>
<path d="M1436.5 451.5 L1500 604" stroke="#99d9ea" stroke-width="5.5" stroke-linecap="round"/>
<path d="M462.8 357.5 H472 V380.5 H475.4 L467.4 400.6 L459.6 380.5 H462.8 Z" fill="none" stroke="#ed1c24" stroke-width="2.6" stroke-linejoin="miter"/>
<path d="M1423.6 367.4 H1433.7 V387.8 H1437.5 L1428.5 406.8 L1419.6 387.8 H1423.6 Z" fill="none" stroke="#ed1c24" stroke-width="2.7" stroke-linejoin="miter"/>
<path d="M550.9 646 H560.4 V625.2 H564.8 L555.5 607.6 L546.2 625.2 H550.9 Z" fill="none" stroke="#b5e61d" stroke-width="2.9" stroke-linejoin="miter"/>
<path d="M1517.5 676.4 H1526.7 V655.6 H1531 L1522.2 636.6 L1513.2 655.6 H1517.5 Z" fill="none" stroke="#b5e61d" stroke-width="2.9" stroke-linejoin="miter"/>
<ellipse cx="589.3" cy="817.9" rx="53.2" ry="69" fill="none" stroke="#22b14c" stroke-width="3.8"/>
<ellipse cx="1552.4" cy="830.4" rx="47.3" ry="66.6" fill="none" stroke="#22b14c" stroke-width="3.8"/></svg>
<svg style="left:421.2px;top:356.9px" width="16" height="10.6"><path d="M4.5 0 L2 8.6 L9.7 0" fill="#d6d6d6" stroke="#a0a0a0" stroke-width="1"/></svg>
<div class="t" style="left:418px;top:333.2px;width:87px;height:24.7px;background:#d6d6d6;border:1px solid #a8a8a8;border-radius:4px;box-sizing:border-box;color:#1a1a1a;font-size:14.45px;line-height:27.3px;text-align:center">Hi: 3393.52</div>
<svg style="left:530.5px;top:650px" width="16" height="11.9"><path d="M6.6 9.9 L2 1 L11.3 9.9" fill="#d6d6d6" stroke="#a0a0a0" stroke-width="1"/></svg>
<div class="t" style="left:528px;top:659.4px;width:88.5px;height:24.4px;background:#d6d6d6;border:1px solid #a8a8a8;border-radius:4px;box-sizing:border-box;color:#1a1a1a;font-size:14.45px;line-height:27px;text-align:center">Lo: 2191.86</div>
<svg style="left:1384.5px;top:361.7px" width="16" height="11"><path d="M4.5 0 L2 9 L9.7 0" fill="#d6d6d6" stroke="#a0a0a0" stroke-width="1"/></svg>
<div class="t" style="left:1381.1px;top:338px;width:86.2px;height:24.7px;background:#d6d6d6;border:1px solid #a8a8a8;border-radius:4px;box-sizing:border-box;color:#1a1a1a;font-size:14.45px;line-height:27.3px;text-align:center">Hi: 9838.37</div>
<svg style="left:1493.4px;top:684px" width="16" height="11.6"><path d="M6.6 9.6 L2 1 L11.3 9.6" fill="#d6d6d6" stroke="#a0a0a0" stroke-width="1"/></svg>
<div class="t" style="left:1491.1px;top:693.1px;width:88.7px;height:24.5px;background:#d6d6d6;border:1px solid #a8a8a8;border-radius:4px;box-sizing:border-box;color:#1a1a1a;font-size:14.45px;line-height:27.1px;text-align:center">Lo: 6631.42</div>
<div style="left:458px;top:38px;width:896px;height:279px;background:#fff;border:5px solid #22b14c;box-sizing:border-box"></div>
<svg style="left:0;top:0" width="1920" height="330" font-family="Liberation Serif" font-weight="bold" font-size="23.6px"><text x="464.6" y="86.3" textLength="365.9" lengthAdjust="spacingAndGlyphs" xml:space="preserve"><tspan style="fill:#000">SPX and Nasdaq closed in a 6 day</tspan></text>
<text x="839.7" y="86.3" textLength="129.1" lengthAdjust="spacingAndGlyphs" xml:space="preserve"><tspan style="fill:#22b14c;font-weight:normal">UPTREND</tspan></text>
<text x="978" y="86.3" textLength="218" lengthAdjust="spacingAndGlyphs" xml:space="preserve"><tspan style="fill:#000">with bullish MACD.</tspan></text>
<text x="464.6" y="113.3" textLength="839.4" lengthAdjust="spacingAndGlyphs" xml:space="preserve"><tspan style="fill:#000">The Naz closed above the Death Cross and the SPX closed above the 50% Fib</tspan></text>
<text x="464.6" y="140.2" textLength="109" lengthAdjust="spacingAndGlyphs" xml:space="preserve"><tspan style="fill:#000">resistance.</tspan></text>
<text x="464.6" y="194.3" textLength="854.1" lengthAdjust="spacingAndGlyphs" xml:space="preserve"><tspan style="fill:#000">We have come a long way off lows, but still cant pick the top. Stay long vs stops</tspan></text>
<text x="464.6" y="221.3" textLength="850.8" lengthAdjust="spacingAndGlyphs" xml:space="preserve"><tspan style="fill:#000">from our Daily Focus List, and continue to allocate long market exposure.  Our</tspan></text>
<text x="464.6" y="248.3" textLength="864.7" lengthAdjust="spacingAndGlyphs" xml:space="preserve"><tspan style="fill:#000">Focus list is 92% win this year with 84 options that have doubled. (last year 89%</tspan></text>
<text x="464.6" y="275.3" textLength="815.8" lengthAdjust="spacingAndGlyphs" xml:space="preserve"><tspan style="fill:#000">win).  Take the trades that meet your risk profile/trading time horizon, scale</tspan></text>
<text x="464.6" y="302.2" textLength="639.4" lengthAdjust="spacingAndGlyphs" xml:space="preserve"><tspan style="fill:#000">profits and use stops.  Emotions and opinions out, Stops in.</tspan></text></svg>
<div style="left:804.6px;top:311.8px;width:253.6px;height:102px;background:#fff;"></div>
<div style="left:813px;top:316.3px;width:236px;height:92px;border:3px solid #000;box-sizing:border-box;background:#fff"></div>
<div style="left:819px;top:321.3px;width:223.5px;height:81px;border:1px solid #000;box-sizing:border-box"></div>
<svg style="left:800px;top:316px" width="260" height="100"><g fill="none" stroke-width="0.9"><path d="M119 36.5 V24 l4-1.2 V34 z M124 33.5 V22.5 l4-1.2 V31.5 z M129 31 V20.5 l3.2-1 V30.5z" stroke="#3c9a2a"/><path d="M138.3 19.3 V30.3 l4 1.2 V21z M143.3 21.5 V33 l4 1.2 V23.5z M148.3 24 V35 l3 1 V25.5z M151.5 25.5 V36.5" stroke="#cc3a3a"/></g><text x="28" y="54.5" font-family="Liberation Serif" font-weight="normal" font-size="16.5px" textLength="197" lengthAdjust="spacingAndGlyphs" fill="#111" stroke="#111" stroke-width="0.55">Fitzstock Charts</text><path d="M68 58.3 H186" stroke="#000" stroke-width="1.6"/><text x="59.5" y="75.2" font-family="Liberation Sans" font-weight="bold" font-size="12.6px" textLength="134" lengthAdjust="spacingAndGlyphs" fill="#0a0a1a">www.fitzstock.com</text></svg>
<div style="left:6.5px;top:160px;width:186px;height:168px;background:#fff;"></div>
<div style="left:16px;top:165px;width:164px;height:154px;border:3px solid #000;box-sizing:border-box;background:#fff"></div>
<svg style="left:20px;top:169px" width="156" height="146" viewBox="0 0 156 146"><defs><linearGradient id="bg1" x1="0" y1="0" x2="0" y2="1"><stop offset="0" stop-color="#040604"/><stop offset="0.2" stop-color="#12140f"/><stop offset="0.42" stop-color="#4c4c44"/><stop offset="0.6" stop-color="#4a4a42"/><stop offset="0.8" stop-color="#22221e"/><stop offset="1" stop-color="#0a0a08"/></linearGradient><filter id="b8" x="-50%" y="-50%" width="200%" height="200%"><feGaussianBlur stdDeviation="7"/></filter><filter id="b3" x="-30%" y="-30%" width="160%" height="160%"><feGaussianBlur stdDeviation="2.6"/></filter><filter id="b1" x="-20%" y="-20%" width="140%" height="140%"><feGaussianBlur stdDeviation="1"/></filter><filter id="b05"><feGaussianBlur stdDeviation="0.5"/></filter><clipPath id="bc"><rect width="156" height="146"/></clipPath></defs><g clip-path="url(#bc)"><rect width="156" height="146" fill="url(#bg1)"/><ellipse cx="18" cy="74" rx="20" ry="26" fill="#a6a69c" filter="url(#b8)"/><ellipse cx="126" cy="48" rx="30" ry="15" fill="#75756a" filter="url(#b8)"/><ellipse cx="95" cy="8" rx="60" ry="14" fill="#000" opacity="0.7" filter="url(#b8)"/><rect x="0" y="134" width="156" height="12" fill="#34342e" filter="url(#b3)"/><path d="M33 146 L36 118 Q32 92 36 78 Q38 62 46 52 L40 34 Q42 22 56 20 Q72 16 84 24 L90 34 L92 46 Q112 52 130 64 Q148 72 156 88 V146 Z" fill="#0d0d0b" filter="url(#b1)"/><g filter="url(#b3)" fill="none" stroke-linecap="round"><path d="M92 50 Q108 72 104 100" stroke="#55554f" stroke-width="7"/><path d="M112 66 Q132 74 146 92" stroke="#484842" stroke-width="8"/><path d="M122 84 Q128 104 122 128" stroke="#3a3a36" stroke-width="7"/><path d="M76 86 Q84 104 76 124" stroke="#3e3e3a" stroke-width="7"/><path d="M56 96 Q62 116 58 140" stroke="#2c2c29" stroke-width="6"/><path d="M146 100 Q150 118 146 138" stroke="#3a3a36" stroke-width="5"/><path d="M96 112 Q100 128 96 142" stroke="#2e2e2b" stroke-width="6"/></g><g filter="url(#b1)"><path d="M42 32 Q44 22 58 20 Q74 17 85 25 L88 40 Q86 56 84 64 Q80 70 70 69 Q62 68 58 60 Q48 48 42 32z" fill="#1c1c1a"/><path d="M46 30 Q56 22 66 26 Q64 36 68 44 Q70 54 66 62 Q58 56 52 46z" fill="#55554f"/><path d="M50 34 l6 -4 3 8 -5 2z M56 44 l6 0 2 8 -6 -2z M48 40 l4 4 -1 5z" fill="#141412"/><path d="M70 28 Q80 26 86 34 Q86 50 82 62 Q76 64 72 56 Q70 42 70 28z" fill="#3c3c38"/><ellipse cx="66" cy="62" rx="3.6" ry="3" fill="#080808"/><ellipse cx="78" cy="61" rx="3" ry="2.8" fill="#0a0a0a"/><ellipse cx="58" cy="40" rx="2" ry="1.6" fill="#c0c0b8"/><path d="M48 28 l5 -2 2 4z M60 50 l3 1 -1 4z M53 36 l2 -1 1 3z" fill="#a8a8a0"/><ellipse cx="81" cy="38" rx="1.6" ry="1.3" fill="#9a9a92"/></g><g filter="url(#b05)"><path d="M8 3 Q14 22 40 29 L42 22 Q22 20 9 3z" fill="#bdbdb4"/><path d="M20 18 Q28 25 40 29 L41 25 Q30 24 22 18z" fill="#70706a"/><path d="M116 3 Q108 24 86 30 L84 23 Q102 20 115 3z" fill="#b8b8ae"/><path d="M104 19 Q96 26 86 30 L85 26 Q96 24 103 19z" fill="#6c6c66"/></g></g><text x="45.3" y="137.8" font-family="Liberation Serif" font-weight="bold" font-size="15.8px" fill="#b9bdc8" textLength="60" lengthAdjust="spacingAndGlyphs">Bullish</text></svg>
<div style="left:1395px;top:65.6px;width:412px;height:67.4px;background:#fff;"></div>
<div style="left:1398px;top:72px;width:404px;height:53px;border:3px solid #000;box-sizing:border-box;background:#fff"></div>
<div style="left:1402px;top:76px;width:395px;height:45px;border:1px solid #000;box-sizing:border-box"></div>
<svg style="left:1400px;top:78px" width="400" height="44"><defs><filter id="sh" x="-5%" y="-50%" width="110%" height="200%"><feGaussianBlur stdDeviation="2"/></filter><linearGradient id="bt" gradientUnits="userSpaceOnUse" x1="0" y1="14" x2="0" y2="33"><stop offset="0" stop-color="#4a82ff"/><stop offset="0.68" stop-color="#3a74ff"/><stop offset="0.72" stop-color="#0a46ff"/><stop offset="1" stop-color="#1450ff"/></linearGradient></defs><text x="13.5" y="32.3" font-family="Liberation Serif" font-weight="bold" font-size="25.5px" textLength="371.5" lengthAdjust="spacingAndGlyphs" fill="#6a6a6a" stroke="#707070" stroke-width="7" stroke-linejoin="round" filter="url(#sh)" opacity="0.9">Break above the downtrend line</text><text x="13.5" y="32.3" font-family="Liberation Serif" font-weight="bold" font-size="25.5px" textLength="371.5" lengthAdjust="spacingAndGlyphs" fill="#e8ecf8" stroke="#e8ecf8" stroke-width="3.4" stroke-linejoin="round">Break above the downtrend line</text><text x="13.5" y="32.3" font-family="Liberation Serif" font-weight="bold" font-size="25.5px" textLength="371.5" lengthAdjust="spacingAndGlyphs" fill="url(#bt)" stroke="url(#bt)" stroke-width="2" stroke-linejoin="round">Break above the downtrend line</text></svg>
</body></html>
